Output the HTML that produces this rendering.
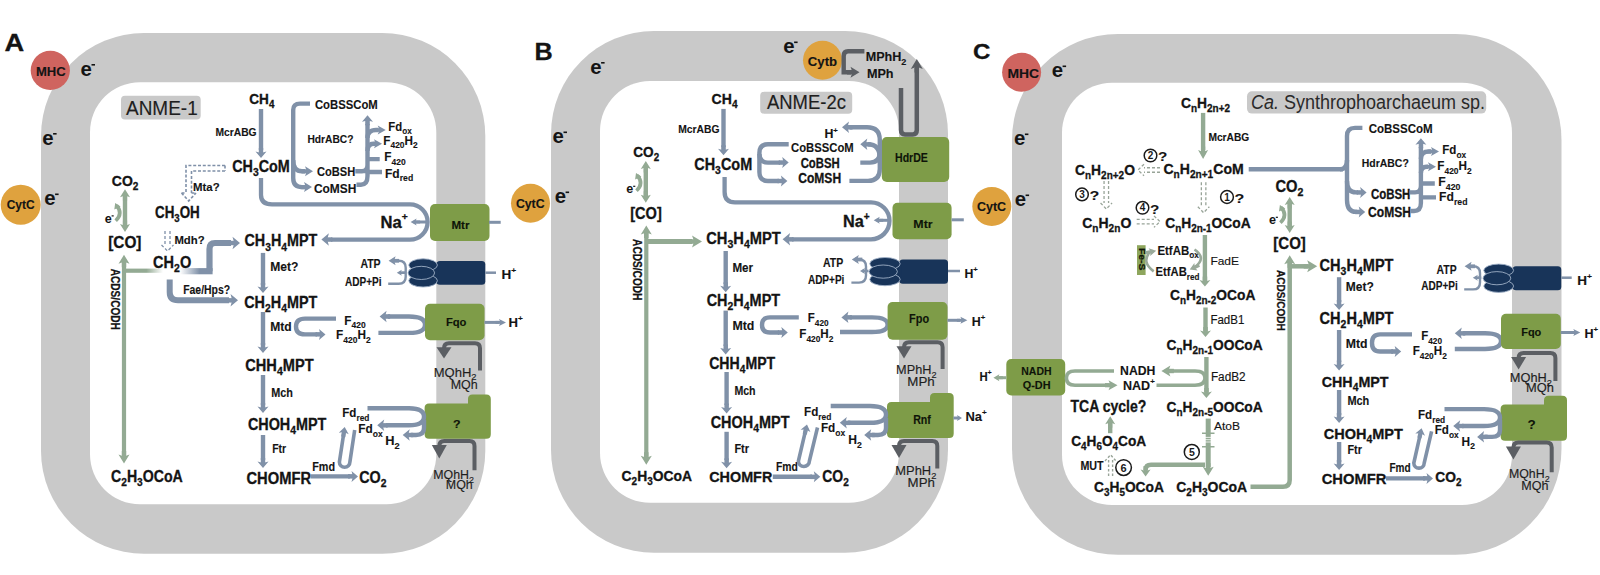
<!DOCTYPE html>
<html><head><meta charset="utf-8"><style>
html,body{margin:0;padding:0;background:#fff;}
svg{display:block;}
</style></head><body>
<svg width="1600" height="575" viewBox="0 0 1600 575">
<rect width="1600" height="575" fill="#fff"/>
<rect x="41" y="33" width="444.3" height="520.8" rx="103" fill="#c9c9c9"/>
<rect x="90" y="82.2" width="346.3" height="422.1" rx="50" fill="#ffffff"/>
<rect x="551" y="31" width="397" height="521.8" rx="103" fill="#c9c9c9"/>
<rect x="600" y="81" width="299" height="421.8" rx="50" fill="#ffffff"/>
<rect x="1012" y="34" width="549.5" height="520.8" rx="106" fill="#c9c9c9"/>
<rect x="1062" y="82.7" width="450" height="422.3" rx="50" fill="#ffffff"/>
<text x="4.5" y="51.0" font-family="Liberation Sans" font-size="24.29" font-weight="bold" fill="#141414" stroke="#141414" stroke-width="0.3" textLength="19.7" lengthAdjust="spacingAndGlyphs" ><tspan>A</tspan></text>
<circle cx="50.3" cy="70.4" r="19.6" fill="#cf645f"/>
<text x="35.9" y="75.5" font-family="Liberation Sans" font-size="12.57" font-weight="bold" fill="#141414" stroke="#141414" stroke-width="0.12" textLength="29.8" lengthAdjust="spacingAndGlyphs" ><tspan>MHC</tspan></text>
<text x="80.6" y="75.5" font-family="Liberation Sans" font-weight="bold" font-size="20.37" fill="#141414">e</text>
<rect x="91.5" y="64.0" width="3.5" height="1.6" fill="#141414"/>
<text x="42.2" y="144.5" font-family="Liberation Sans" font-weight="bold" font-size="20.37" fill="#141414">e</text>
<rect x="53.1" y="133.0" width="3.5" height="1.6" fill="#141414"/>
<circle cx="20.7" cy="204.8" r="20" fill="#dfa23e"/>
<text x="6.7" y="208.5" font-family="Liberation Sans" font-size="12.14" font-weight="bold" fill="#141414" stroke="#141414" stroke-width="0.12" textLength="27.9" lengthAdjust="spacingAndGlyphs" ><tspan>CytC</tspan></text>
<text x="44.2" y="205.0" font-family="Liberation Sans" font-weight="bold" font-size="20.37" fill="#141414">e</text>
<rect x="55.1" y="193.5" width="3.5" height="1.6" fill="#141414"/>
<circle cx="530.5" cy="203.2" r="19.5" fill="#dfa23e"/>
<text x="515.9" y="207.5" font-family="Liberation Sans" font-size="12.14" font-weight="bold" fill="#141414" stroke="#141414" stroke-width="0.12" textLength="28.7" lengthAdjust="spacingAndGlyphs" ><tspan>CytC</tspan></text>
<rect x="121" y="95.8" width="79.7" height="23.7" rx="4" fill="#c9c9c9"/>
<text x="126.0" y="115.0" font-family="Liberation Sans" font-size="20.00" font-weight="normal" fill="#1e1e1e" stroke="#1e1e1e" stroke-width="0.15" textLength="71.7" lengthAdjust="spacingAndGlyphs" ><tspan>ANME-1</tspan></text>
<text x="249.3" y="104.3" font-family="Liberation Sans" font-size="14.29" font-weight="bold" fill="#141414" stroke="#141414" stroke-width="0.3" textLength="25.1" lengthAdjust="spacingAndGlyphs" ><tspan>CH</tspan><tspan dy="4.00" font-size="10.29">4</tspan></text>
<path d="M261,109 V150" fill="none" stroke="#8091a8" stroke-width="4.4" />
<polygon points="261.0,158.0 255.5,151.5 261.0,152.9 266.5,151.5" fill="#8091a8"/>
<polygon points="258.8,148.0 258.8,154.8 263.2,154.8 263.2,148.0" fill="#8091a8"/>
<text x="215.5" y="135.5" font-family="Liberation Sans" font-size="10.71" font-weight="bold" fill="#141414" stroke="#141414" stroke-width="0.12" textLength="41.1" lengthAdjust="spacingAndGlyphs" ><tspan>McrABG</tspan></text>
<text x="232.2" y="172.0" font-family="Liberation Sans" font-size="15.71" font-weight="bold" fill="#141414" stroke="#141414" stroke-width="0.3" textLength="57.6" lengthAdjust="spacingAndGlyphs" ><tspan>CH</tspan><tspan dy="4.40" font-size="11.31">3</tspan><tspan dy="-4.40" font-size="15.71">CoM</tspan></text>
<text x="314.9" y="109.2" font-family="Liberation Sans" font-size="13.14" font-weight="bold" fill="#141414" stroke="#141414" stroke-width="0.12" textLength="62.9" lengthAdjust="spacingAndGlyphs" ><tspan>CoBSSCoM</tspan></text>
<text x="307.4" y="143.3" font-family="Liberation Sans" font-size="11.43" font-weight="bold" fill="#141414" stroke="#141414" stroke-width="0.12" textLength="46.1" lengthAdjust="spacingAndGlyphs" ><tspan>HdrABC?</tspan></text>
<text x="316.9" y="175.7" font-family="Liberation Sans" font-size="13.14" font-weight="bold" fill="#141414" stroke="#141414" stroke-width="0.12" textLength="38.3" lengthAdjust="spacingAndGlyphs" ><tspan>CoBSH</tspan></text>
<text x="313.9" y="192.5" font-family="Liberation Sans" font-size="13.14" font-weight="bold" fill="#141414" stroke="#141414" stroke-width="0.12" textLength="42.5" lengthAdjust="spacingAndGlyphs" ><tspan>CoMSH</tspan></text>
<path d="M310,103.6 H300 Q293.2,103.6 293.2,110 V178 Q293.2,187.1 302,187.1 H305" fill="none" stroke="#8091a8" stroke-width="4.4" />
<path d="M293.2,160 Q293.2,171.3 302,171.3 H305" fill="none" stroke="#8091a8" stroke-width="4.4" />
<polygon points="313.0,171.3 305.0,176.3 306.8,171.3 305.0,166.3" fill="#8091a8"/>
<polygon points="301.5,173.4 309.0,173.4 309.0,169.2 301.5,169.2" fill="#8091a8"/>
<polygon points="312.0,187.1 304.0,192.1 305.8,187.1 304.0,182.1" fill="#8091a8"/>
<polygon points="300.5,189.2 308.0,189.2 308.0,185.0 300.5,185.0" fill="#8091a8"/>
<path d="M355.3,171.3 H362 Q367.5,171.3 367.5,165 M356.5,184.7 H361 Q367.5,184.7 367.5,176 V124" fill="none" stroke="#8091a8" stroke-width="4.4" />
<polygon points="367.5,115.3 373.0,121.8 367.5,120.4 362.0,121.8" fill="#8091a8"/>
<polygon points="369.8,125.3 369.8,118.5 365.2,118.5 365.2,125.3" fill="#8091a8"/>
<path d="M367.5,138 Q367.5,130 376,130 H378 M367.5,151 Q367.5,143.8 374,143.8 H375 M367.5,159.1 H379.7 M367.5,172 H382" fill="none" stroke="#8091a8" stroke-width="4.4" />
<polygon points="385.7,130.0 377.7,134.5 379.5,130.0 377.7,125.5" fill="#8091a8"/>
<polygon points="374.2,131.9 381.7,131.9 381.7,128.1 374.2,128.1" fill="#8091a8"/>
<polygon points="382.0,143.8 374.0,148.3 375.8,143.8 374.0,139.3" fill="#8091a8"/>
<polygon points="370.5,145.7 378.0,145.7 378.0,141.9 370.5,141.9" fill="#8091a8"/>
<text x="388.3" y="130.5" font-family="Liberation Sans" font-size="13.57" font-weight="bold" fill="#141414" stroke="#141414" stroke-width="0.12" textLength="23.4" lengthAdjust="spacingAndGlyphs" ><tspan>Fd</tspan><tspan dy="3.80" font-size="9.77">ox</tspan></text>
<text x="383.3" y="144.5" font-family="Liberation Sans" font-size="13.57" font-weight="bold" fill="#141414" stroke="#141414" stroke-width="0.12" textLength="34.4" lengthAdjust="spacingAndGlyphs" ><tspan>F</tspan><tspan dy="3.80" font-size="9.77">420</tspan><tspan dy="-3.80" font-size="13.57">H</tspan><tspan dy="3.80" font-size="9.77">2</tspan></text>
<text x="384.3" y="161.0" font-family="Liberation Sans" font-size="13.57" font-weight="bold" fill="#141414" stroke="#141414" stroke-width="0.12" textLength="21.4" lengthAdjust="spacingAndGlyphs" ><tspan>F</tspan><tspan dy="3.80" font-size="9.77">420</tspan></text>
<text x="385.0" y="177.5" font-family="Liberation Sans" font-size="13.57" font-weight="bold" fill="#141414" stroke="#141414" stroke-width="0.12" textLength="28.2" lengthAdjust="spacingAndGlyphs" ><tspan>Fd</tspan><tspan dy="3.80" font-size="9.77">red</tspan></text>
<path d="M225,165.5 H186 V193 M225,171 H191.5 V193 M225,165.5 V171" fill="none" stroke="#7f90a8" stroke-width="1.6" stroke-dasharray="3,1.8"/>
<path d="M181.5,193 H186 M191.5,193 H196 M181.5,193 L188.7,201 L196,193" fill="none" stroke="#7f90a8" stroke-width="1.6" stroke-dasharray="3,1.8"/>
<text x="193.0" y="191.4" font-family="Liberation Sans" font-size="11.71" font-weight="bold" fill="#141414" stroke="#141414" stroke-width="0.12" textLength="26.6" lengthAdjust="spacingAndGlyphs" ><tspan>Mta?</tspan></text>
<text x="155.0" y="218.0" font-family="Liberation Sans" font-size="15.71" font-weight="bold" fill="#141414" stroke="#141414" stroke-width="0.3" textLength="44.8" lengthAdjust="spacingAndGlyphs" ><tspan>CH</tspan><tspan dy="4.40" font-size="11.31">3</tspan><tspan dy="-4.40" font-size="15.71">OH</tspan></text>
<path d="M165.0,231 V245 M170.0,231 V245" fill="none" stroke="#7f90a8" stroke-width="1.3" stroke-dasharray="3,2"/>
<path d="M161.5,245 L167.5,251 L173.5,245" fill="none" stroke="#7f90a8" stroke-width="1.3" stroke-dasharray="3,2"/>
<text x="174.4" y="243.7" font-family="Liberation Sans" font-size="11.71" font-weight="bold" fill="#141414" stroke="#141414" stroke-width="0.12" textLength="30.2" lengthAdjust="spacingAndGlyphs" ><tspan>Mdh?</tspan></text>
<text x="153.1" y="268.0" font-family="Liberation Sans" font-size="15.71" font-weight="bold" fill="#141414" stroke="#141414" stroke-width="0.3" textLength="38.1" lengthAdjust="spacingAndGlyphs" ><tspan>CH</tspan><tspan dy="4.40" font-size="11.31">2</tspan><tspan dy="-4.40" font-size="15.71">O</tspan></text>
<text x="111.8" y="186.0" font-family="Liberation Sans" font-size="15.00" font-weight="bold" fill="#141414" stroke="#141414" stroke-width="0.3" textLength="26.6" lengthAdjust="spacingAndGlyphs" ><tspan>CO</tspan><tspan dy="4.20" font-size="10.80">2</tspan></text>
<path d="M125,196 V226" fill="none" stroke="#93aa93" stroke-width="4.4" />
<polygon points="125.0,189.2 130.0,197.2 125.0,195.4 120.0,197.2" fill="#93aa93"/>
<polygon points="127.1,200.7 127.1,193.2 122.9,193.2 122.9,200.7" fill="#93aa93"/>
<polygon points="125.0,232.0 120.0,224.0 125.0,225.8 130.0,224.0" fill="#93aa93"/>
<polygon points="122.9,220.5 122.9,228.0 127.1,228.0 127.1,220.5" fill="#93aa93"/>
<path d="M116.5,205.5 Q123.5,213.5 115.7,220.7" fill="none" stroke="#93aa93" stroke-width="3.6" />
<polygon points="115.2,203.0 120.6,206.6 117.5,208.0 114.3,209.5" fill="#93aa93"/>
<text x="104.7" y="222.6" font-family="Liberation Sans" font-weight="bold" font-size="12.59" fill="#141414">e</text>
<rect x="111.6" y="215.3" width="2.1" height="1.2" fill="#141414"/>
<text x="108.2" y="248.0" font-family="Liberation Sans" font-size="15.71" font-weight="bold" fill="#141414" stroke="#141414" stroke-width="0.3" textLength="33.3" lengthAdjust="spacingAndGlyphs" ><tspan>[CO]</tspan></text>
<path d="M124,262 V455" fill="none" stroke="#93aa93" stroke-width="4.2" />
<polygon points="124.0,254.7 129.5,263.7 124.0,261.7 118.5,263.7" fill="#93aa93"/>
<polygon points="126.2,267.2 126.2,259.2 121.8,259.2 121.8,267.2" fill="#93aa93"/>
<polygon points="124.0,463.5 118.5,454.5 124.0,456.5 129.5,454.5" fill="#93aa93"/>
<polygon points="121.8,451.0 121.8,459.0 126.2,459.0 126.2,451.0" fill="#93aa93"/>
<defs><linearGradient id="gA" x1="0" x2="1"><stop offset="0" stop-color="#93aa93"/><stop offset="0.55" stop-color="#93aa93"/><stop offset="1" stop-color="#93aa93" stop-opacity="0"/></linearGradient><linearGradient id="bA" x1="0" x2="1"><stop offset="0" stop-color="#8091a8" stop-opacity="0"/><stop offset="0.6" stop-color="#8091a8"/></linearGradient></defs>
<rect x="126" y="268.6" width="37" height="4.2" fill="url(#gA)"/>
<g transform="translate(111.4,268.8) rotate(90)"><text x="0" y="0" font-family="Liberation Sans" font-weight="bold" font-size="12.29" fill="#141414" stroke="#141414" stroke-width="0.25" textLength="61.0" lengthAdjust="spacingAndGlyphs">ACDS/CODH</text></g>
<text x="111.0" y="482.0" font-family="Liberation Sans" font-size="15.71" font-weight="bold" fill="#141414" stroke="#141414" stroke-width="0.3" textLength="71.8" lengthAdjust="spacingAndGlyphs" ><tspan>C</tspan><tspan dy="4.40" font-size="11.31">2</tspan><tspan dy="-4.40" font-size="15.71">H</tspan><tspan dy="4.40" font-size="11.31">3</tspan><tspan dy="-4.40" font-size="15.71">OCoA</tspan></text>
<rect x="180" y="268.1" width="32.6" height="6.2" fill="url(#bA)"/>
<path d="M209.5,271.2 V249 Q209.5,243 215,243 H231" fill="none" stroke="#8091a8" stroke-width="6.2" />
<polygon points="240.0,243.0 232.5,249.2 234.2,243.0 232.5,236.8" fill="#8091a8"/>
<polygon points="229.0,245.2 236.2,245.2 236.2,240.8 229.0,240.8" fill="#8091a8"/>
<path d="M169.7,279.6 V292 Q169.7,300.3 178,300.3 H229" fill="none" stroke="#8091a8" stroke-width="6" />
<polygon points="238.0,300.3 230.5,306.6 232.2,300.3 230.5,294.1" fill="#8091a8"/>
<polygon points="227.0,302.6 234.2,302.6 234.2,298.1 227.0,298.1" fill="#8091a8"/>
<text x="183.2" y="294.0" font-family="Liberation Sans" font-size="11.86" font-weight="bold" fill="#141414" stroke="#141414" stroke-width="0.12" textLength="47.0" lengthAdjust="spacingAndGlyphs" ><tspan>Fae/Hps?</tspan></text>
<text x="244.4" y="246.3" font-family="Liberation Sans" font-size="16.14" font-weight="bold" fill="#141414" stroke="#141414" stroke-width="0.3" textLength="72.9" lengthAdjust="spacingAndGlyphs" ><tspan>CH</tspan><tspan dy="4.52" font-size="11.62">3</tspan><tspan dy="-4.52" font-size="16.14">H</tspan><tspan dy="4.52" font-size="11.62">4</tspan><tspan dy="-4.52" font-size="16.14">MPT</tspan></text>
<text x="270.2" y="271.0" font-family="Liberation Sans" font-size="11.86" font-weight="bold" fill="#141414" stroke="#141414" stroke-width="0.12" textLength="28.2" lengthAdjust="spacingAndGlyphs" ><tspan>Met?</tspan></text>
<path d="M263,252.9 V285" fill="none" stroke="#8091a8" stroke-width="4.4" />
<polygon points="263.0,293.0 257.5,286.5 263.0,287.9 268.5,286.5" fill="#8091a8"/>
<polygon points="260.8,283.0 260.8,289.8 265.2,289.8 265.2,283.0" fill="#8091a8"/>
<text x="244.2" y="307.7" font-family="Liberation Sans" font-size="16.14" font-weight="bold" fill="#141414" stroke="#141414" stroke-width="0.3" textLength="73.1" lengthAdjust="spacingAndGlyphs" ><tspan>CH</tspan><tspan dy="4.52" font-size="11.62">2</tspan><tspan dy="-4.52" font-size="16.14">H</tspan><tspan dy="4.52" font-size="11.62">4</tspan><tspan dy="-4.52" font-size="16.14">MPT</tspan></text>
<text x="270.2" y="331.0" font-family="Liberation Sans" font-size="12.14" font-weight="bold" fill="#141414" stroke="#141414" stroke-width="0.12" textLength="21.4" lengthAdjust="spacingAndGlyphs" ><tspan>Mtd</tspan></text>
<path d="M263,312 V345" fill="none" stroke="#8091a8" stroke-width="4.4" />
<polygon points="263.0,353.0 257.5,346.5 263.0,347.9 268.5,346.5" fill="#8091a8"/>
<polygon points="260.8,343.0 260.8,349.8 265.2,349.8 265.2,343.0" fill="#8091a8"/>
<text x="245.2" y="370.5" font-family="Liberation Sans" font-size="15.71" font-weight="bold" fill="#141414" stroke="#141414" stroke-width="0.3" textLength="68.4" lengthAdjust="spacingAndGlyphs" ><tspan>CHH</tspan><tspan dy="4.40" font-size="11.31">4</tspan><tspan dy="-4.40" font-size="15.71">MPT</tspan></text>
<text x="271.2" y="397.0" font-family="Liberation Sans" font-size="11.86" font-weight="bold" fill="#141414" stroke="#141414" stroke-width="0.12" textLength="21.7" lengthAdjust="spacingAndGlyphs" ><tspan>Mch</tspan></text>
<path d="M263,375 V405" fill="none" stroke="#8091a8" stroke-width="4.4" />
<polygon points="263.0,413.0 257.5,406.5 263.0,407.9 268.5,406.5" fill="#8091a8"/>
<polygon points="260.8,403.0 260.8,409.8 265.2,409.8 265.2,403.0" fill="#8091a8"/>
<text x="247.9" y="429.5" font-family="Liberation Sans" font-size="15.71" font-weight="bold" fill="#141414" stroke="#141414" stroke-width="0.3" textLength="78.5" lengthAdjust="spacingAndGlyphs" ><tspan>CHOH</tspan><tspan dy="4.40" font-size="11.31">4</tspan><tspan dy="-4.40" font-size="15.71">MPT</tspan></text>
<text x="272.2" y="453.3" font-family="Liberation Sans" font-size="11.86" font-weight="bold" fill="#141414" stroke="#141414" stroke-width="0.12" textLength="14.0" lengthAdjust="spacingAndGlyphs" ><tspan>Ftr</tspan></text>
<path d="M263,435 V460" fill="none" stroke="#8091a8" stroke-width="4.4" />
<polygon points="263.0,468.0 257.5,461.5 263.0,462.9 268.5,461.5" fill="#8091a8"/>
<polygon points="260.8,458.0 260.8,464.8 265.2,464.8 265.2,458.0" fill="#8091a8"/>
<text x="246.4" y="483.5" font-family="Liberation Sans" font-size="15.71" font-weight="bold" fill="#141414" stroke="#141414" stroke-width="0.3" textLength="64.7" lengthAdjust="spacingAndGlyphs" ><tspan>CHOMFR</tspan></text>
<text x="312.2" y="470.8" font-family="Liberation Sans" font-size="11.86" font-weight="bold" fill="#141414" stroke="#141414" stroke-width="0.12" textLength="22.8" lengthAdjust="spacingAndGlyphs" ><tspan>Fmd</tspan></text>
<path d="M310.5,476.4 H350" fill="none" stroke="#8091a8" stroke-width="4.4" />
<polygon points="358.0,476.4 351.5,481.9 352.9,476.4 351.5,470.9" fill="#8091a8"/>
<polygon points="348.0,478.6 354.8,478.6 354.8,474.1 348.0,474.1" fill="#8091a8"/>
<text x="359.2" y="482.5" font-family="Liberation Sans" font-size="15.71" font-weight="bold" fill="#141414" stroke="#141414" stroke-width="0.3" textLength="27.3" lengthAdjust="spacingAndGlyphs" ><tspan>CO</tspan><tspan dy="4.40" font-size="11.31">2</tspan></text>
<path d="M343.8,432.9 L339.4,462.0 A5.2,5.2 0 0 0 349.9,462.0 L354.7,430.0" fill="none" stroke="#8091a8" stroke-width="3.6" />
<polygon points="344.7,427.0 348.7,434.2 343.9,432.0 338.8,432.7" fill="#8091a8"/>
<polygon points="345.3,437.2 346.3,430.5 342.1,429.9 341.1,436.6" fill="#8091a8"/>
<path d="M336,318.6 H305 Q296,318.6 296,326.5 Q296,334.4 305,334.4 H317" fill="none" stroke="#8091a8" stroke-width="4.4" />
<polygon points="325.5,334.4 319.0,339.9 320.4,334.4 319.0,328.9" fill="#8091a8"/>
<polygon points="315.5,336.6 322.2,336.6 322.2,332.1 315.5,332.1" fill="#8091a8"/>
<text x="344.3" y="324.5" font-family="Liberation Sans" font-size="13.57" font-weight="bold" fill="#141414" stroke="#141414" stroke-width="0.12" textLength="21.4" lengthAdjust="spacingAndGlyphs" ><tspan>F</tspan><tspan dy="3.80" font-size="9.77">420</tspan></text>
<text x="336.0" y="339.0" font-family="Liberation Sans" font-size="13.57" font-weight="bold" fill="#141414" stroke="#141414" stroke-width="0.12" textLength="34.7" lengthAdjust="spacingAndGlyphs" ><tspan>F</tspan><tspan dy="3.80" font-size="9.77">420</tspan><tspan dy="-3.80" font-size="13.57">H</tspan><tspan dy="3.80" font-size="9.77">2</tspan></text>
<path d="M388,316.5 H409 Q425,316.5 425,324.7 Q425,332.9 409,332.9 H378.4" fill="none" stroke="#8091a8" stroke-width="4.4" />
<polygon points="379.6,316.5 386.6,310.8 385.1,316.5 386.6,322.2" fill="#8091a8"/>
<polygon points="390.1,314.2 383.1,314.2 383.1,318.8 390.1,318.8" fill="#8091a8"/>
<rect x="425" y="303.7" width="59.5" height="36.5" rx="5" fill="#7e9c48"/>
<text x="445.9" y="325.5" font-family="Liberation Sans" font-size="11.43" font-weight="bold" fill="#0e1408" stroke="#0e1408" stroke-width="0.12" textLength="20.6" lengthAdjust="spacingAndGlyphs" ><tspan>Fqo</tspan></text>
<path d="M484.5,322.4 H499" fill="none" stroke="#8091a8" stroke-width="3" />
<polygon points="506.0,322.4 499.0,325.9 500.5,322.4 499.0,318.9" fill="#8091a8"/>
<polygon points="495.5,323.9 502.5,323.9 502.5,320.9 495.5,320.9" fill="#8091a8"/>
<text x="508.4" y="327.0" font-family="Liberation Sans" font-size="12.86" font-weight="bold" fill="#141414" stroke="#141414" stroke-width="0.12" textLength="14.3" lengthAdjust="spacingAndGlyphs" ><tspan>H</tspan><tspan dy="-5.79" font-size="7.97">+</tspan></text>
<path d="M480,370.6 V348.3 Q480,343.3 475,343.3 H449 Q444,343.3 444,348.3" fill="none" stroke="#5b5e63" stroke-width="4" />
<polygon points="436.5,347.3 451.5,347.3 444.0,358.6" fill="#5b5e63"/>
<text x="433.7" y="376.5" font-family="Liberation Sans" font-size="13.57" font-weight="normal" fill="#1e1e1e" stroke="#1e1e1e" stroke-width="0.15" textLength="42.8" lengthAdjust="spacingAndGlyphs" ><tspan>MQhH</tspan><tspan dy="3.80" font-size="9.77">2</tspan></text>
<text x="450.7" y="388.5" font-family="Liberation Sans" font-size="13.57" font-weight="normal" fill="#1e1e1e" stroke="#1e1e1e" stroke-width="0.15" textLength="27.0" lengthAdjust="spacingAndGlyphs" ><tspan>MQh</tspan></text>
<path d="M261,178 V195 Q261,204.4 272,204.4 H410 A17.6,17.6 0 0 1 410,239.6 H331" fill="none" stroke="#8091a8" stroke-width="4.3" />
<polygon points="321.4,239.6 328.9,233.3 327.2,239.6 328.9,245.8" fill="#8091a8"/>
<polygon points="332.4,237.3 325.1,237.3 325.1,241.8 332.4,241.8" fill="#8091a8"/>
<rect x="430" y="204" width="59.5" height="37.0" rx="5" fill="#7e9c48"/>
<text x="451.4" y="228.7" font-family="Liberation Sans" font-size="11.14" font-weight="bold" fill="#0e1408" stroke="#0e1408" stroke-width="0.12" textLength="18.1" lengthAdjust="spacingAndGlyphs" ><tspan>Mtr</tspan></text>
<text x="380.6" y="227.5" font-family="Liberation Sans" font-size="15.71" font-weight="bold" fill="#141414" stroke="#141414" stroke-width="0.3" textLength="27.2" lengthAdjust="spacingAndGlyphs" ><tspan>Na</tspan><tspan dy="-7.07" font-size="9.74">+</tspan></text>
<path d="M427.7,222 H415" fill="none" stroke="#8091a8" stroke-width="3" />
<polygon points="410.6,222.0 416.6,218.5 415.3,222.0 416.6,225.5" fill="#8091a8"/>
<polygon points="420.1,220.5 413.6,220.5 413.6,223.5 420.1,223.5" fill="#8091a8"/>
<path d="M489,222.3 H500.7" fill="none" stroke="#8091a8" stroke-width="3" />
<rect x="436.4" y="261" width="48.9" height="23.8" rx="3.5" fill="#183459"/>
<rect x="430.4" y="266.9" width="8" height="12" fill="#183459"/>
<ellipse cx="423.1" cy="265.1" rx="14.3" ry="6.3" fill="#183459" stroke="#9fb0c6" stroke-width="0.9"/>
<ellipse cx="423.1" cy="280.7" rx="14.3" ry="6.3" fill="#183459" stroke="#9fb0c6" stroke-width="0.9"/>
<ellipse cx="421.3" cy="272.9" rx="13.3" ry="6.6" fill="#183459" stroke="#9fb0c6" stroke-width="0.9"/>
<path d="M388.2,283.7 H398.7 Q405.7,283.7 405.7,276.7 V267.8 Q405.7,260.8 398.7,260.8 H393.6" fill="none" stroke="#8091a8" stroke-width="2.4" />
<polygon points="388.6,260.8 395.6,256.3 394.1,260.8 395.6,265.3" fill="#8091a8"/>
<polygon points="399.1,258.9 392.1,258.9 392.1,262.7 399.1,262.7" fill="#8091a8"/>
<path d="M405.7,272.7 H401.6" fill="none" stroke="#8091a8" stroke-width="2" />
<polygon points="396.8,272.7 401.8,269.7 400.7,272.7 401.8,275.7" fill="#8091a8"/>
<polygon points="405.3,271.4 399.3,271.4 399.3,274.0 405.3,274.0" fill="#8091a8"/>
<path d="M485.3,272.7 H496.0" fill="none" stroke="#8091a8" stroke-width="2.5" />
<text x="501.4" y="278.7" font-family="Liberation Sans" font-size="12.86" font-weight="bold" fill="#141414" stroke="#141414" stroke-width="0.12" textLength="14.7" lengthAdjust="spacingAndGlyphs" ><tspan>H</tspan><tspan dy="-5.79" font-size="7.97">+</tspan></text>
<text x="360.4" y="267.5" font-family="Liberation Sans" font-size="12.14" font-weight="bold" fill="#141414" stroke="#141414" stroke-width="0.12" textLength="20.2" lengthAdjust="spacingAndGlyphs" ><tspan>ATP</tspan></text>
<text x="345.1" y="285.7" font-family="Liberation Sans" font-size="12.14" font-weight="bold" fill="#141414" stroke="#141414" stroke-width="0.12" textLength="36.5" lengthAdjust="spacingAndGlyphs" ><tspan>ADP+Pi</tspan></text>
<path d="M424.6,408 Q424.6,403.4 429,403.4 H468 V399 Q468,394.4 472.5,394.4 H486.3 Q490.8,394.4 490.8,399 V434.2 Q490.8,438.7 486.3,438.7 H429 Q424.6,438.7 424.6,434.2 Z" fill="#7e9c48"/>
<text x="452.9" y="428.0" font-family="Liberation Sans" font-size="11.43" font-weight="bold" fill="#0e1408" stroke="#0e1408" stroke-width="0.12" textLength="7.6" lengthAdjust="spacingAndGlyphs" ><tspan>?</tspan></text>
<path d="M367.5,408.3 H409 Q424,408.3 424,416.8 Q424,425.3 409,425.3 H386" fill="none" stroke="#8091a8" stroke-width="4.4" />
<polygon points="377.2,425.3 384.2,419.6 382.7,425.3 384.2,431.1" fill="#8091a8"/>
<polygon points="387.7,423.1 380.7,423.1 380.7,427.6 387.7,427.6" fill="#8091a8"/>
<path d="M424,420 V428 Q424,435 416,435 H411" fill="none" stroke="#8091a8" stroke-width="4.4" />
<polygon points="402.7,435.0 409.7,429.2 408.2,435.0 409.7,440.8" fill="#8091a8"/>
<polygon points="413.2,432.8 406.2,432.8 406.2,437.2 413.2,437.2" fill="#8091a8"/>
<text x="342.3" y="417.0" font-family="Liberation Sans" font-size="13.57" font-weight="bold" fill="#141414" stroke="#141414" stroke-width="0.12" textLength="27.1" lengthAdjust="spacingAndGlyphs" ><tspan>Fd</tspan><tspan dy="3.80" font-size="9.77">red</tspan></text>
<text x="358.3" y="433.0" font-family="Liberation Sans" font-size="13.57" font-weight="bold" fill="#141414" stroke="#141414" stroke-width="0.12" textLength="24.4" lengthAdjust="spacingAndGlyphs" ><tspan>Fd</tspan><tspan dy="3.80" font-size="9.77">ox</tspan></text>
<text x="385.3" y="445.0" font-family="Liberation Sans" font-size="13.57" font-weight="bold" fill="#141414" stroke="#141414" stroke-width="0.12" textLength="14.4" lengthAdjust="spacingAndGlyphs" ><tspan>H</tspan><tspan dy="3.80" font-size="9.77">2</tspan></text>
<path d="M474.5,470.3 V446 Q474.5,441 469.5,441 H444.3 Q439.3,441 439.3,446" fill="none" stroke="#5b5e63" stroke-width="4" />
<polygon points="431.8,445.0 446.8,445.0 439.3,458.6" fill="#5b5e63"/>
<text x="433.3" y="479.0" font-family="Liberation Sans" font-size="13.57" font-weight="normal" fill="#1e1e1e" stroke="#1e1e1e" stroke-width="0.15" textLength="40.7" lengthAdjust="spacingAndGlyphs" ><tspan>MQhH</tspan><tspan dy="3.80" font-size="9.77">2</tspan></text>
<text x="445.8" y="488.5" font-family="Liberation Sans" font-size="13.57" font-weight="normal" fill="#1e1e1e" stroke="#1e1e1e" stroke-width="0.15" textLength="26.9" lengthAdjust="spacingAndGlyphs" ><tspan>MQh</tspan></text>
<text x="534.6" y="59.6" font-family="Liberation Sans" font-size="24.29" font-weight="bold" fill="#141414" stroke="#141414" stroke-width="0.3" textLength="18.2" lengthAdjust="spacingAndGlyphs" ><tspan>B</tspan></text>
<text x="590.2" y="73.5" font-family="Liberation Sans" font-weight="bold" font-size="20.37" fill="#141414">e</text>
<rect x="601.1" y="62.0" width="3.5" height="1.6" fill="#141414"/>
<text x="552.6" y="143.0" font-family="Liberation Sans" font-weight="bold" font-size="20.37" fill="#141414">e</text>
<rect x="563.5" y="131.5" width="3.5" height="1.6" fill="#141414"/>
<text x="554.7" y="203.0" font-family="Liberation Sans" font-weight="bold" font-size="20.37" fill="#141414">e</text>
<rect x="565.6" y="191.5" width="3.5" height="1.6" fill="#141414"/>
<text x="783.2" y="53.0" font-family="Liberation Sans" font-weight="bold" font-size="20.37" fill="#141414">e</text>
<rect x="794.1" y="41.5" width="3.5" height="1.6" fill="#141414"/>
<circle cx="822.5" cy="60.2" r="19.5" fill="#dfa23e"/>
<text x="807.8" y="65.5" font-family="Liberation Sans" font-size="12.57" font-weight="bold" fill="#141414" stroke="#141414" stroke-width="0.12" textLength="29.3" lengthAdjust="spacingAndGlyphs" ><tspan>Cytb</tspan></text>
<path d="M864.4,51.2 H848 Q843.7,51.2 843.7,56 V72.3 H851" fill="none" stroke="#5b5e63" stroke-width="4.4" />
<polygon points="859.5,72.3 850.5,77.8 852.5,72.3 850.5,66.8" fill="#5b5e63"/>
<polygon points="847.0,74.5 855.0,74.5 855.0,70.0 847.0,70.0" fill="#5b5e63"/>
<text x="865.7" y="61.0" font-family="Liberation Sans" font-size="13.14" font-weight="bold" fill="#141414" stroke="#141414" stroke-width="0.12" textLength="40.7" lengthAdjust="spacingAndGlyphs" ><tspan>MPhH</tspan><tspan dy="3.68" font-size="9.46">2</tspan></text>
<text x="866.9" y="78.0" font-family="Liberation Sans" font-size="13.14" font-weight="bold" fill="#141414" stroke="#141414" stroke-width="0.12" textLength="26.7" lengthAdjust="spacingAndGlyphs" ><tspan>MPh</tspan></text>
<path d="M901,88 V130 Q901,134.4 905,134.4 H912.8 Q916.8,134.4 916.8,130 V68" fill="none" stroke="#5b5e63" stroke-width="4.5" />
<polygon points="916.8,59.0 922.8,69.0 916.8,66.8 910.8,69.0" fill="#5b5e63"/>
<polygon points="919.0,72.5 919.0,64.0 914.5,64.0 914.5,72.5" fill="#5b5e63"/>
<rect x="760.2" y="91.8" width="92.0" height="21.9" rx="4" fill="#c9c9c9"/>
<text x="767.0" y="109.0" font-family="Liberation Sans" font-size="19.29" font-weight="normal" fill="#1e1e1e" stroke="#1e1e1e" stroke-width="0.15" textLength="78.9" lengthAdjust="spacingAndGlyphs" ><tspan>ANME-2c</tspan></text>
<text x="711.6" y="103.5" font-family="Liberation Sans" font-size="14.71" font-weight="bold" fill="#141414" stroke="#141414" stroke-width="0.3" textLength="25.9" lengthAdjust="spacingAndGlyphs" ><tspan>CH</tspan><tspan dy="4.12" font-size="10.59">4</tspan></text>
<path d="M723.5,108.9 V147" fill="none" stroke="#8091a8" stroke-width="4.4" />
<polygon points="723.5,155.3 718.0,148.8 723.5,150.2 729.0,148.8" fill="#8091a8"/>
<polygon points="721.2,145.3 721.2,152.1 725.8,152.1 725.8,145.3" fill="#8091a8"/>
<text x="678.2" y="133.0" font-family="Liberation Sans" font-size="11.43" font-weight="bold" fill="#141414" stroke="#141414" stroke-width="0.12" textLength="41.3" lengthAdjust="spacingAndGlyphs" ><tspan>McrABG</tspan></text>
<text x="694.2" y="170.0" font-family="Liberation Sans" font-size="15.71" font-weight="bold" fill="#141414" stroke="#141414" stroke-width="0.3" textLength="58.0" lengthAdjust="spacingAndGlyphs" ><tspan>CH</tspan><tspan dy="4.40" font-size="11.31">3</tspan><tspan dy="-4.40" font-size="15.71">CoM</tspan></text>
<text x="633.2" y="156.5" font-family="Liberation Sans" font-size="15.43" font-weight="bold" fill="#141414" stroke="#141414" stroke-width="0.3" textLength="25.9" lengthAdjust="spacingAndGlyphs" ><tspan>CO</tspan><tspan dy="4.32" font-size="11.11">2</tspan></text>
<path d="M645.8,167 V196" fill="none" stroke="#93aa93" stroke-width="4.4" />
<polygon points="645.8,161.0 650.8,169.0 645.8,167.2 640.8,169.0" fill="#93aa93"/>
<polygon points="647.9,172.5 647.9,165.0 643.7,165.0 643.7,172.5" fill="#93aa93"/>
<polygon points="645.8,202.8 640.8,194.8 645.8,196.6 650.8,194.8" fill="#93aa93"/>
<polygon points="643.7,191.3 643.7,198.8 647.9,198.8 647.9,191.3" fill="#93aa93"/>
<path d="M637.3,175.5 Q644.3,183.5 636.5,190.7" fill="none" stroke="#93aa93" stroke-width="3.6" />
<polygon points="636.0,173.0 641.4,176.6 638.3,178.0 635.1,179.5" fill="#93aa93"/>
<text x="626.3" y="193.0" font-family="Liberation Sans" font-weight="bold" font-size="12.59" fill="#141414">e</text>
<rect x="633.2" y="185.7" width="2.1" height="1.2" fill="#141414"/>
<text x="630.2" y="219.0" font-family="Liberation Sans" font-size="15.71" font-weight="bold" fill="#141414" stroke="#141414" stroke-width="0.3" textLength="31.6" lengthAdjust="spacingAndGlyphs" ><tspan>[CO]</tspan></text>
<path d="M646.3,233 V457" fill="none" stroke="#93aa93" stroke-width="4.2" />
<polygon points="646.3,225.5 651.8,234.5 646.3,232.5 640.8,234.5" fill="#93aa93"/>
<polygon points="648.5,238.0 648.5,230.0 644.0,230.0 644.0,238.0" fill="#93aa93"/>
<polygon points="646.3,464.7 640.8,455.7 646.3,457.7 651.8,455.7" fill="#93aa93"/>
<polygon points="644.0,452.2 644.0,460.2 648.5,460.2 648.5,452.2" fill="#93aa93"/>
<path d="M647,241.5 H692" fill="none" stroke="#93aa93" stroke-width="4.8" />
<polygon points="702.0,241.5 692.0,247.5 694.2,241.5 692.0,235.5" fill="#93aa93"/>
<polygon points="688.5,243.8 697.0,243.8 697.0,239.2 688.5,239.2" fill="#93aa93"/>
<g transform="translate(633.0,239.1) rotate(90)"><text x="0" y="0" font-family="Liberation Sans" font-weight="bold" font-size="11.86" fill="#141414" stroke="#141414" stroke-width="0.25" textLength="61.3" lengthAdjust="spacingAndGlyphs">ACDS/CODH</text></g>
<text x="621.6" y="481.0" font-family="Liberation Sans" font-size="15.00" font-weight="bold" fill="#141414" stroke="#141414" stroke-width="0.3" textLength="70.4" lengthAdjust="spacingAndGlyphs" ><tspan>C</tspan><tspan dy="4.20" font-size="10.80">2</tspan><tspan dy="-4.20" font-size="15.00">H</tspan><tspan dy="4.20" font-size="10.80">3</tspan><tspan dy="-4.20" font-size="15.00">OCoA</tspan></text>
<path d="M788.7,144.3 H768 Q759.4,144.3 759.4,153 V172 Q759.4,181 768,181 H779" fill="none" stroke="#8091a8" stroke-width="4.4" />
<path d="M759.4,154 Q759.4,162.6 768,162.6 H780" fill="none" stroke="#8091a8" stroke-width="4.4" />
<polygon points="788.7,162.6 782.2,168.1 783.6,162.6 782.2,157.1" fill="#8091a8"/>
<polygon points="778.7,164.8 785.5,164.8 785.5,160.3 778.7,160.3" fill="#8091a8"/>
<polygon points="787.4,181.0 780.9,186.5 782.3,181.0 780.9,175.5" fill="#8091a8"/>
<polygon points="777.4,183.2 784.1,183.2 784.1,178.8 777.4,178.8" fill="#8091a8"/>
<text x="791.0" y="151.6" font-family="Liberation Sans" font-size="13.57" font-weight="bold" fill="#141414" stroke="#141414" stroke-width="0.12" textLength="62.7" lengthAdjust="spacingAndGlyphs" ><tspan>CoBSSCoM</tspan></text>
<text x="800.7" y="167.5" font-family="Liberation Sans" font-size="14.00" font-weight="bold" fill="#141414" stroke="#141414" stroke-width="0.3" textLength="39.0" lengthAdjust="spacingAndGlyphs" ><tspan>CoBSH</tspan></text>
<text x="798.3" y="182.5" font-family="Liberation Sans" font-size="14.00" font-weight="bold" fill="#141414" stroke="#141414" stroke-width="0.3" textLength="42.8" lengthAdjust="spacingAndGlyphs" ><tspan>CoMSH</tspan></text>
<text x="824.4" y="138.0" font-family="Liberation Sans" font-size="12.14" font-weight="bold" fill="#141414" stroke="#141414" stroke-width="0.12" textLength="13.4" lengthAdjust="spacingAndGlyphs" ><tspan>H</tspan><tspan dy="-5.46" font-size="7.53">+</tspan></text>
<rect x="881.8" y="137" width="67.4" height="45.0" rx="5" fill="#7e9c48"/>
<text x="895.0" y="162.0" font-family="Liberation Sans" font-size="11.86" font-weight="bold" fill="#0e1408" stroke="#0e1408" stroke-width="0.12" textLength="32.9" lengthAdjust="spacingAndGlyphs" ><tspan>HdrDE</tspan></text>
<path d="M849.4,180.9 H868 Q879.8,180.9 879.8,169 V140 Q879.8,127.3 867,127.3 H850" fill="none" stroke="#8091a8" stroke-width="4.4" />
<polygon points="842.0,127.3 849.0,121.5 847.5,127.3 849.0,133.1" fill="#8091a8"/>
<polygon points="852.5,125.0 845.5,125.0 845.5,129.6 852.5,129.6" fill="#8091a8"/>
<path d="M860.3,162.6 H870 Q879.8,162.6 879.8,152" fill="none" stroke="#8091a8" stroke-width="4.4" />
<path d="M879.8,158 Q879.8,144.3 868,144.3" fill="none" stroke="#8091a8" stroke-width="4.4" />
<polygon points="860.3,144.3 867.3,138.6 865.8,144.3 867.3,150.1" fill="#8091a8"/>
<polygon points="870.8,142.1 863.8,142.1 863.8,146.6 870.8,146.6" fill="#8091a8"/>
<path d="M724.6,177 V192 Q724.6,202.3 735,202.3 H871 A18.5,18.5 0 0 1 871,239.3 H792" fill="none" stroke="#8091a8" stroke-width="4.3" />
<polygon points="782.6,239.3 790.1,233.1 788.5,239.3 790.1,245.6" fill="#8091a8"/>
<polygon points="793.6,237.1 786.4,237.1 786.4,241.6 793.6,241.6" fill="#8091a8"/>
<text x="843.0" y="227.0" font-family="Liberation Sans" font-size="16.43" font-weight="bold" fill="#141414" stroke="#141414" stroke-width="0.3" textLength="26.7" lengthAdjust="spacingAndGlyphs" ><tspan>Na</tspan><tspan dy="-7.39" font-size="10.19">+</tspan></text>
<path d="M889.5,220.3 H878" fill="none" stroke="#8091a8" stroke-width="3" />
<polygon points="873.7,220.3 879.7,216.8 878.4,220.3 879.7,223.8" fill="#8091a8"/>
<polygon points="883.2,218.8 876.7,218.8 876.7,221.8 883.2,221.8" fill="#8091a8"/>
<rect x="892.5" y="202.8" width="59.1" height="36.5" rx="5" fill="#7e9c48"/>
<text x="913.3" y="227.6" font-family="Liberation Sans" font-size="11.43" font-weight="bold" fill="#0e1408" stroke="#0e1408" stroke-width="0.12" textLength="19.3" lengthAdjust="spacingAndGlyphs" ><tspan>Mtr</tspan></text>
<path d="M951.6,219.8 H963.8" fill="none" stroke="#8091a8" stroke-width="3" />
<circle cx="991.8" cy="206.4" r="19.5" fill="#dfa23e"/>
<text x="976.9" y="211.0" font-family="Liberation Sans" font-size="12.14" font-weight="bold" fill="#141414" stroke="#141414" stroke-width="0.12" textLength="29.2" lengthAdjust="spacingAndGlyphs" ><tspan>CytC</tspan></text>
<text x="706.2" y="244.0" font-family="Liberation Sans" font-size="15.71" font-weight="bold" fill="#141414" stroke="#141414" stroke-width="0.3" textLength="74.6" lengthAdjust="spacingAndGlyphs" ><tspan>CH</tspan><tspan dy="4.40" font-size="11.31">3</tspan><tspan dy="-4.40" font-size="15.71">H</tspan><tspan dy="4.40" font-size="11.31">4</tspan><tspan dy="-4.40" font-size="15.71">MPT</tspan></text>
<path d="M725.7,251 V284" fill="none" stroke="#8091a8" stroke-width="4.4" />
<polygon points="725.7,292.3 720.2,285.8 725.7,287.2 731.2,285.8" fill="#8091a8"/>
<polygon points="723.5,282.3 723.5,289.1 728.0,289.1 728.0,282.3" fill="#8091a8"/>
<text x="732.4" y="271.6" font-family="Liberation Sans" font-size="12.29" font-weight="bold" fill="#141414" stroke="#141414" stroke-width="0.12" textLength="20.7" lengthAdjust="spacingAndGlyphs" ><tspan>Mer</tspan></text>
<text x="706.7" y="306.0" font-family="Liberation Sans" font-size="15.71" font-weight="bold" fill="#141414" stroke="#141414" stroke-width="0.3" textLength="73.4" lengthAdjust="spacingAndGlyphs" ><tspan>CH</tspan><tspan dy="4.40" font-size="11.31">2</tspan><tspan dy="-4.40" font-size="15.71">H</tspan><tspan dy="4.40" font-size="11.31">4</tspan><tspan dy="-4.40" font-size="15.71">MPT</tspan></text>
<path d="M725.7,310.6 V346" fill="none" stroke="#8091a8" stroke-width="4.4" />
<polygon points="725.7,354.4 720.2,347.9 725.7,349.3 731.2,347.9" fill="#8091a8"/>
<polygon points="723.5,344.4 723.5,351.1 728.0,351.1 728.0,344.4" fill="#8091a8"/>
<text x="732.4" y="330.0" font-family="Liberation Sans" font-size="12.14" font-weight="bold" fill="#141414" stroke="#141414" stroke-width="0.12" textLength="21.9" lengthAdjust="spacingAndGlyphs" ><tspan>Mtd</tspan></text>
<path d="M798.8,317.4 H770 Q762,317.4 762,325 Q762,332.5 770,332.5 H779" fill="none" stroke="#8091a8" stroke-width="4.4" />
<polygon points="787.8,332.5 781.3,338.0 782.7,332.5 781.3,327.0" fill="#8091a8"/>
<polygon points="777.8,334.8 784.5,334.8 784.5,330.2 777.8,330.2" fill="#8091a8"/>
<text x="807.8" y="322.0" font-family="Liberation Sans" font-size="13.14" font-weight="bold" fill="#141414" stroke="#141414" stroke-width="0.12" textLength="20.8" lengthAdjust="spacingAndGlyphs" ><tspan>F</tspan><tspan dy="3.68" font-size="9.46">420</tspan></text>
<text x="799.3" y="338.0" font-family="Liberation Sans" font-size="13.14" font-weight="bold" fill="#141414" stroke="#141414" stroke-width="0.12" textLength="34.1" lengthAdjust="spacingAndGlyphs" ><tspan>F</tspan><tspan dy="3.68" font-size="9.46">420</tspan><tspan dy="-3.68" font-size="13.14">H</tspan><tspan dy="3.68" font-size="9.46">2</tspan></text>
<path d="M850,317.4 H872 Q887.6,317.4 887.6,324.7 Q887.6,332 872,332 H840" fill="none" stroke="#8091a8" stroke-width="4.4" />
<polygon points="841.4,317.4 848.4,311.6 846.9,317.4 848.4,323.1" fill="#8091a8"/>
<polygon points="851.9,315.1 844.9,315.1 844.9,319.6 851.9,319.6" fill="#8091a8"/>
<rect x="887.6" y="302" width="59.9" height="37.8" rx="5" fill="#7e9c48"/>
<text x="909.1" y="322.8" font-family="Liberation Sans" font-size="12.29" font-weight="bold" fill="#0e1408" stroke="#0e1408" stroke-width="0.12" textLength="20.0" lengthAdjust="spacingAndGlyphs" ><tspan>Fpo</tspan></text>
<path d="M947.5,320.3 H960" fill="none" stroke="#8091a8" stroke-width="3" />
<polygon points="967.4,320.3 960.4,323.8 961.9,320.3 960.4,316.8" fill="#8091a8"/>
<polygon points="956.9,321.8 963.9,321.8 963.9,318.8 956.9,318.8" fill="#8091a8"/>
<text x="971.7" y="326.0" font-family="Liberation Sans" font-size="12.86" font-weight="bold" fill="#141414" stroke="#141414" stroke-width="0.12" textLength="13.5" lengthAdjust="spacingAndGlyphs" ><tspan>H</tspan><tspan dy="-5.79" font-size="7.97">+</tspan></text>
<path d="M942.6,369 V347.2 Q942.6,342.2 937.6,342.2 H909 Q904,342.2 904,347.2" fill="none" stroke="#5b5e63" stroke-width="4" />
<polygon points="896.5,346.2 911.5,346.2 904.0,358.4" fill="#5b5e63"/>
<text x="896.1" y="374.0" font-family="Liberation Sans" font-size="13.57" font-weight="normal" fill="#1e1e1e" stroke="#1e1e1e" stroke-width="0.15" textLength="40.4" lengthAdjust="spacingAndGlyphs" ><tspan>MPhH</tspan><tspan dy="3.80" font-size="9.77">2</tspan></text>
<text x="907.3" y="386.0" font-family="Liberation Sans" font-size="13.57" font-weight="normal" fill="#1e1e1e" stroke="#1e1e1e" stroke-width="0.15" textLength="27.4" lengthAdjust="spacingAndGlyphs" ><tspan>MPh</tspan></text>
<rect x="899.3" y="259.5" width="48.7" height="24.3" rx="3.5" fill="#183459"/>
<rect x="893.3" y="265.65" width="8" height="12" fill="#183459"/>
<ellipse cx="885.0" cy="263.8" rx="15.2" ry="6.3" fill="#183459" stroke="#9fb0c6" stroke-width="0.9"/>
<ellipse cx="885.0" cy="279.4" rx="15.2" ry="6.3" fill="#183459" stroke="#9fb0c6" stroke-width="0.9"/>
<ellipse cx="883.2" cy="271.6" rx="14.2" ry="6.6" fill="#183459" stroke="#9fb0c6" stroke-width="0.9"/>
<path d="M851.4,282.6 H859.0 Q866.0,282.6 866.0,275.6 V266.5 Q866.0,259.5 859.0,259.5 H856.8" fill="none" stroke="#8091a8" stroke-width="2.4" />
<polygon points="851.8,259.5 858.8,255.0 857.3,259.5 858.8,264.0" fill="#8091a8"/>
<polygon points="862.3,257.6 855.3,257.6 855.3,261.4 862.3,261.4" fill="#8091a8"/>
<path d="M866.0,271.0 H864.8" fill="none" stroke="#8091a8" stroke-width="2" />
<polygon points="860.0,271.0 865.0,268.0 863.9,271.0 865.0,274.0" fill="#8091a8"/>
<polygon points="868.5,269.7 862.5,269.7 862.5,272.3 868.5,272.3" fill="#8091a8"/>
<path d="M948.0,271.0 H960.0" fill="none" stroke="#8091a8" stroke-width="2.5" />
<text x="964.4" y="277.5" font-family="Liberation Sans" font-size="12.86" font-weight="bold" fill="#141414" stroke="#141414" stroke-width="0.12" textLength="13.3" lengthAdjust="spacingAndGlyphs" ><tspan>H</tspan><tspan dy="-5.79" font-size="7.97">+</tspan></text>
<text x="823.0" y="266.8" font-family="Liberation Sans" font-size="12.14" font-weight="bold" fill="#141414" stroke="#141414" stroke-width="0.12" textLength="20.2" lengthAdjust="spacingAndGlyphs" ><tspan>ATP</tspan></text>
<text x="807.9" y="284.0" font-family="Liberation Sans" font-size="12.14" font-weight="bold" fill="#141414" stroke="#141414" stroke-width="0.12" textLength="36.5" lengthAdjust="spacingAndGlyphs" ><tspan>ADP+Pi</tspan></text>
<text x="709.2" y="369.0" font-family="Liberation Sans" font-size="15.71" font-weight="bold" fill="#141414" stroke="#141414" stroke-width="0.3" textLength="66.0" lengthAdjust="spacingAndGlyphs" ><tspan>CHH</tspan><tspan dy="4.40" font-size="11.31">4</tspan><tspan dy="-4.40" font-size="15.71">MPT</tspan></text>
<text x="734.4" y="395.3" font-family="Liberation Sans" font-size="12.14" font-weight="bold" fill="#141414" stroke="#141414" stroke-width="0.12" textLength="21.2" lengthAdjust="spacingAndGlyphs" ><tspan>Mch</tspan></text>
<path d="M726.6,372 V405" fill="none" stroke="#8091a8" stroke-width="4.4" />
<polygon points="726.6,413.5 721.1,407.0 726.6,408.4 732.1,407.0" fill="#8091a8"/>
<polygon points="724.4,403.5 724.4,410.2 728.9,410.2 728.9,403.5" fill="#8091a8"/>
<text x="710.7" y="428.0" font-family="Liberation Sans" font-size="15.71" font-weight="bold" fill="#141414" stroke="#141414" stroke-width="0.3" textLength="78.8" lengthAdjust="spacingAndGlyphs" ><tspan>CHOH</tspan><tspan dy="4.40" font-size="11.31">4</tspan><tspan dy="-4.40" font-size="15.71">MPT</tspan></text>
<text x="734.4" y="452.5" font-family="Liberation Sans" font-size="12.14" font-weight="bold" fill="#141414" stroke="#141414" stroke-width="0.12" textLength="14.7" lengthAdjust="spacingAndGlyphs" ><tspan>Ftr</tspan></text>
<path d="M726.6,431.8 V460" fill="none" stroke="#8091a8" stroke-width="4.4" />
<polygon points="726.6,468.3 721.1,461.8 726.6,463.2 732.1,461.8" fill="#8091a8"/>
<polygon points="724.4,458.3 724.4,465.1 728.9,465.1 728.9,458.3" fill="#8091a8"/>
<text x="709.2" y="481.5" font-family="Liberation Sans" font-size="15.43" font-weight="bold" fill="#141414" stroke="#141414" stroke-width="0.3" textLength="63.1" lengthAdjust="spacingAndGlyphs" ><tspan>CHOMFR</tspan></text>
<text x="775.9" y="470.8" font-family="Liberation Sans" font-size="12.14" font-weight="bold" fill="#141414" stroke="#141414" stroke-width="0.12" textLength="21.9" lengthAdjust="spacingAndGlyphs" ><tspan>Fmd</tspan></text>
<path d="M772.8,476.8 H812" fill="none" stroke="#8091a8" stroke-width="4.4" />
<polygon points="820.3,476.8 813.8,482.3 815.2,476.8 813.8,471.3" fill="#8091a8"/>
<polygon points="810.3,479.1 817.0,479.1 817.0,474.6 810.3,474.6" fill="#8091a8"/>
<text x="822.2" y="482.0" font-family="Liberation Sans" font-size="15.71" font-weight="bold" fill="#141414" stroke="#141414" stroke-width="0.3" textLength="26.6" lengthAdjust="spacingAndGlyphs" ><tspan>CO</tspan><tspan dy="4.40" font-size="11.31">2</tspan></text>
<path d="M805.6,430.3 L798.4,461.0 A5.5,5.5 0 0 0 809.4,461.0 L817.5,427.5" fill="none" stroke="#8091a8" stroke-width="3.6" />
<polygon points="807.0,424.5 810.4,432.0 805.8,429.4 800.6,429.7" fill="#8091a8"/>
<polygon points="806.8,434.7 808.3,428.1 804.2,427.2 802.7,433.8" fill="#8091a8"/>
<text x="804.1" y="416.0" font-family="Liberation Sans" font-size="13.57" font-weight="bold" fill="#141414" stroke="#141414" stroke-width="0.12" textLength="27.3" lengthAdjust="spacingAndGlyphs" ><tspan>Fd</tspan><tspan dy="3.80" font-size="9.77">red</tspan></text>
<text x="820.9" y="432.0" font-family="Liberation Sans" font-size="13.57" font-weight="bold" fill="#141414" stroke="#141414" stroke-width="0.12" textLength="24.2" lengthAdjust="spacingAndGlyphs" ><tspan>Fd</tspan><tspan dy="3.80" font-size="9.77">ox</tspan></text>
<text x="848.3" y="444.0" font-family="Liberation Sans" font-size="13.57" font-weight="bold" fill="#141414" stroke="#141414" stroke-width="0.12" textLength="13.6" lengthAdjust="spacingAndGlyphs" ><tspan>H</tspan><tspan dy="3.80" font-size="9.77">2</tspan></text>
<path d="M887,406.5 Q887,402 891.5,402 H930 V397.5 Q930,393 934.5,393 H949.2 Q953.7,393 953.7,397.5 V433.5 Q953.7,438 949.2,438 H891.5 Q887,438 887,433.5 Z" fill="#7e9c48"/>
<text x="913.2" y="424.0" font-family="Liberation Sans" font-size="12.14" font-weight="bold" fill="#0e1408" stroke="#0e1408" stroke-width="0.12" textLength="17.7" lengthAdjust="spacingAndGlyphs" ><tspan>Rnf</tspan></text>
<path d="M830.7,406 H870 Q886,406 886,414.4 Q886,422.8 870,422.8 H848" fill="none" stroke="#8091a8" stroke-width="4.4" />
<polygon points="839.8,422.8 846.8,417.1 845.3,422.8 846.8,428.6" fill="#8091a8"/>
<polygon points="850.3,420.6 843.3,420.6 843.3,425.1 850.3,425.1" fill="#8091a8"/>
<path d="M886,418 V428 Q886,435 878,435 H872" fill="none" stroke="#8091a8" stroke-width="4.4" />
<polygon points="864.2,435.0 871.2,429.2 869.7,435.0 871.2,440.8" fill="#8091a8"/>
<polygon points="874.7,432.8 867.7,432.8 867.7,437.2 874.7,437.2" fill="#8091a8"/>
<path d="M953.7,418 H958" fill="none" stroke="#8091a8" stroke-width="2.5" />
<polygon points="962.0,418.0 957.0,421.0 958.1,418.0 957.0,415.0" fill="#8091a8"/>
<polygon points="953.5,419.3 959.5,419.3 959.5,416.7 953.5,416.7" fill="#8091a8"/>
<text x="965.4" y="420.5" font-family="Liberation Sans" font-size="12.86" font-weight="bold" fill="#141414" stroke="#141414" stroke-width="0.12" textLength="21.3" lengthAdjust="spacingAndGlyphs" ><tspan>Na</tspan><tspan dy="-5.79" font-size="7.97">+</tspan></text>
<path d="M937.3,468.5 V446 Q937.3,441 932.3,441 H904 Q899,441 899,446" fill="none" stroke="#5b5e63" stroke-width="4" />
<polygon points="891.5,445.0 906.5,445.0 899.0,457.9" fill="#5b5e63"/>
<text x="895.3" y="475.0" font-family="Liberation Sans" font-size="13.57" font-weight="normal" fill="#1e1e1e" stroke="#1e1e1e" stroke-width="0.15" textLength="41.1" lengthAdjust="spacingAndGlyphs" ><tspan>MPhH</tspan><tspan dy="3.80" font-size="9.77">2</tspan></text>
<text x="907.6" y="487.0" font-family="Liberation Sans" font-size="13.57" font-weight="normal" fill="#1e1e1e" stroke="#1e1e1e" stroke-width="0.15" textLength="27.3" lengthAdjust="spacingAndGlyphs" ><tspan>MPh</tspan></text>
<text x="973.0" y="59.0" font-family="Liberation Sans" font-size="22.86" font-weight="bold" fill="#141414" stroke="#141414" stroke-width="0.3" textLength="17.4" lengthAdjust="spacingAndGlyphs" ><tspan>C</tspan></text>
<circle cx="1021.6" cy="72.3" r="19.5" fill="#cf645f"/>
<text x="1007.4" y="78.2" font-family="Liberation Sans" font-size="12.86" font-weight="bold" fill="#141414" stroke="#141414" stroke-width="0.12" textLength="31.7" lengthAdjust="spacingAndGlyphs" ><tspan>MHC</tspan></text>
<text x="1051.7" y="77.0" font-family="Liberation Sans" font-weight="bold" font-size="20.37" fill="#141414">e</text>
<rect x="1062.6" y="65.5" width="3.5" height="1.6" fill="#141414"/>
<text x="1014.0" y="145.0" font-family="Liberation Sans" font-weight="bold" font-size="20.37" fill="#141414">e</text>
<rect x="1024.9" y="133.5" width="3.5" height="1.6" fill="#141414"/>
<text x="1014.7" y="206.0" font-family="Liberation Sans" font-weight="bold" font-size="20.37" fill="#141414">e</text>
<rect x="1025.6" y="194.5" width="3.5" height="1.6" fill="#141414"/>
<rect x="1247" y="91.3" width="239.2" height="22.3" rx="5" fill="#c9c9c9"/>
<text x="1251" y="109" font-family="Liberation Sans" font-size="19.5" fill="#2a2a2a" textLength="234" lengthAdjust="spacingAndGlyphs"><tspan font-style="italic">Ca.</tspan> Synthrophoarchaeum sp.</text>
<text x="1181.0" y="107.5" font-family="Liberation Sans" font-size="14.71" font-weight="bold" fill="#141414" stroke="#141414" stroke-width="0.3" textLength="49.0" lengthAdjust="spacingAndGlyphs" ><tspan>C</tspan><tspan dy="4.12" font-size="10.59">n</tspan><tspan dy="-4.12" font-size="14.71">H</tspan><tspan dy="4.12" font-size="10.59">2n+2</tspan></text>
<path d="M1203.1,112.9 V150" fill="none" stroke="#93aa93" stroke-width="4.4" />
<polygon points="1203.1,159.0 1198.1,150.0 1203.1,152.0 1208.1,150.0" fill="#93aa93"/>
<polygon points="1201.0,146.5 1201.0,154.5 1205.2,154.5 1205.2,146.5" fill="#93aa93"/>
<text x="1208.4" y="140.9" font-family="Liberation Sans" font-size="11.71" font-weight="bold" fill="#141414" stroke="#141414" stroke-width="0.12" textLength="40.9" lengthAdjust="spacingAndGlyphs" ><tspan>McrABG</tspan></text>
<text x="1163.4" y="173.5" font-family="Liberation Sans" font-size="15.43" font-weight="bold" fill="#141414" stroke="#141414" stroke-width="0.3" textLength="80.3" lengthAdjust="spacingAndGlyphs" ><tspan>C</tspan><tspan dy="4.32" font-size="11.11">n</tspan><tspan dy="-4.32" font-size="15.43">H</tspan><tspan dy="4.32" font-size="11.11">2n+1</tspan><tspan dy="-4.32" font-size="15.43">CoM</tspan></text>
<text x="1075.0" y="175.0" font-family="Liberation Sans" font-size="15.43" font-weight="bold" fill="#141414" stroke="#141414" stroke-width="0.3" textLength="59.9" lengthAdjust="spacingAndGlyphs" ><tspan>C</tspan><tspan dy="4.32" font-size="11.11">n</tspan><tspan dy="-4.32" font-size="15.43">H</tspan><tspan dy="4.32" font-size="11.11">2n+2</tspan><tspan dy="-4.32" font-size="15.43">O</tspan></text>
<circle cx="1150.5" cy="155.5" r="6.3" fill="none" stroke="#1a1a1a" stroke-width="1.5"/>
<text x="1150.5" y="159.1" font-family="Liberation Sans" font-weight="bold" font-size="10" text-anchor="middle" fill="#1a1a1a">2</text>
<text x="1157.9" y="161.0" font-family="Liberation Sans" font-size="12.57" font-weight="bold" fill="#141414" stroke="#141414" stroke-width="0.12" textLength="9.3" lengthAdjust="spacingAndGlyphs" ><tspan>?</tspan></text>
<path d="M1160,167.75 H1144 M1160,172.25 H1144" fill="none" stroke="#98a498" stroke-width="1.3" stroke-dasharray="3,2"/>
<path d="M1144,164.25 L1138,170 L1144,175.75" fill="none" stroke="#98a498" stroke-width="1.3" stroke-dasharray="3,2"/>
<circle cx="1082" cy="194.4" r="6.3" fill="none" stroke="#1a1a1a" stroke-width="1.5"/>
<text x="1082" y="198.0" font-family="Liberation Sans" font-weight="bold" font-size="10" text-anchor="middle" fill="#1a1a1a">3</text>
<text x="1089.4" y="200.0" font-family="Liberation Sans" font-size="12.57" font-weight="bold" fill="#141414" stroke="#141414" stroke-width="0.12" textLength="9.8" lengthAdjust="spacingAndGlyphs" ><tspan>?</tspan></text>
<path d="M1104.05,181 V203 M1108.55,181 V203" fill="none" stroke="#98a498" stroke-width="1.3" stroke-dasharray="3,2"/>
<path d="M1100.55,203 L1106.3,209 L1112.05,203" fill="none" stroke="#98a498" stroke-width="1.3" stroke-dasharray="3,2"/>
<circle cx="1227" cy="197" r="6.4" fill="none" stroke="#1a1a1a" stroke-width="1.5"/>
<text x="1227" y="200.6" font-family="Liberation Sans" font-weight="bold" font-size="10" text-anchor="middle" fill="#1a1a1a">1</text>
<text x="1234.4" y="202.5" font-family="Liberation Sans" font-size="12.57" font-weight="bold" fill="#141414" stroke="#141414" stroke-width="0.12" textLength="9.8" lengthAdjust="spacingAndGlyphs" ><tspan>?</tspan></text>
<path d="M1201.35,182.2 V206.7 M1205.85,182.2 V206.7" fill="none" stroke="#98a498" stroke-width="1.3" stroke-dasharray="3,2"/>
<path d="M1197.85,206.7 L1203.6,212.7 L1209.35,206.7" fill="none" stroke="#98a498" stroke-width="1.3" stroke-dasharray="3,2"/>
<circle cx="1142.5" cy="207.8" r="6.3" fill="none" stroke="#1a1a1a" stroke-width="1.5"/>
<text x="1142.5" y="211.4" font-family="Liberation Sans" font-weight="bold" font-size="10" text-anchor="middle" fill="#1a1a1a">4</text>
<text x="1149.9" y="213.5" font-family="Liberation Sans" font-size="12.57" font-weight="bold" fill="#141414" stroke="#141414" stroke-width="0.12" textLength="9.3" lengthAdjust="spacingAndGlyphs" ><tspan>?</tspan></text>
<path d="M1136.7,219.35 H1154 M1136.7,223.85 H1154" fill="none" stroke="#98a498" stroke-width="1.3" stroke-dasharray="3,2"/>
<path d="M1154,215.85 L1160,221.6 L1154,227.35" fill="none" stroke="#98a498" stroke-width="1.3" stroke-dasharray="3,2"/>
<text x="1082.2" y="227.5" font-family="Liberation Sans" font-size="15.43" font-weight="bold" fill="#141414" stroke="#141414" stroke-width="0.3" textLength="49.1" lengthAdjust="spacingAndGlyphs" ><tspan>C</tspan><tspan dy="4.32" font-size="11.11">n</tspan><tspan dy="-4.32" font-size="15.43">H</tspan><tspan dy="4.32" font-size="11.11">2n</tspan><tspan dy="-4.32" font-size="15.43">O</tspan></text>
<text x="1165.2" y="227.5" font-family="Liberation Sans" font-size="15.43" font-weight="bold" fill="#141414" stroke="#141414" stroke-width="0.3" textLength="85.5" lengthAdjust="spacingAndGlyphs" ><tspan>C</tspan><tspan dy="4.32" font-size="11.11">n</tspan><tspan dy="-4.32" font-size="15.43">H</tspan><tspan dy="4.32" font-size="11.11">2n-1</tspan><tspan dy="-4.32" font-size="15.43">OCoA</tspan></text>
<path d="M1204.9,235 V281" fill="none" stroke="#93aa93" stroke-width="4.4" />
<polygon points="1204.9,286.6 1199.4,280.1 1204.9,281.5 1210.4,280.1" fill="#93aa93"/>
<polygon points="1202.7,276.6 1202.7,283.4 1207.2,283.4 1207.2,276.6" fill="#93aa93"/>
<text x="1210.4" y="265.3" font-family="Liberation Sans" font-size="11.43" font-weight="normal" fill="#141414" stroke="#141414" stroke-width="0.15" textLength="28.5" lengthAdjust="spacingAndGlyphs" ><tspan>FadE</tspan></text>
<rect x="1137" y="245.2" width="8.6" height="29.8" fill="#8ea65d"/>
<g transform="translate(1138.5,248.0) rotate(90)"><text x="0" y="0" font-family="Liberation Sans" font-weight="bold" font-size="8.86" fill="#0e1408" stroke="#0e1408" stroke-width="0.25" textLength="22.5" lengthAdjust="spacingAndGlyphs">Fe-S</text></g>
<text x="1157.4" y="255.0" font-family="Liberation Sans" font-size="11.86" font-weight="bold" fill="#141414" stroke="#141414" stroke-width="0.12" textLength="41.4" lengthAdjust="spacingAndGlyphs" ><tspan>EtfAB</tspan><tspan dy="3.32" font-size="8.54">ox</tspan></text>
<text x="1155.6" y="276.3" font-family="Liberation Sans" font-size="12.29" font-weight="bold" fill="#141414" stroke="#141414" stroke-width="0.12" textLength="43.8" lengthAdjust="spacingAndGlyphs" ><tspan>EtfAB</tspan><tspan dy="3.44" font-size="8.85">red</tspan></text>
<path d="M1153.7,271.4 Q1141,262 1150,252" fill="none" stroke="#9aaa9a" stroke-width="2.6" />
<polygon points="1156.2,250.7 1150.1,256.0 1150.8,251.8 1148.6,248.2" fill="#9aaa9a"/>
<polygon points="1146.2,254.4 1153.1,253.0 1152.4,249.7 1145.6,251.1" fill="#9aaa9a"/>
<path d="M1194.5,249.5 Q1207,258 1195,267" fill="none" stroke="#9aaa9a" stroke-width="2.6" />
<polygon points="1189.7,269.6 1194.4,263.1 1194.7,267.4 1197.7,270.4" fill="#9aaa9a"/>
<polygon points="1198.6,263.8 1192.2,266.6 1193.6,269.7 1200.0,266.8" fill="#9aaa9a"/>
<text x="1170.0" y="299.5" font-family="Liberation Sans" font-size="15.43" font-weight="bold" fill="#141414" stroke="#141414" stroke-width="0.3" textLength="85.4" lengthAdjust="spacingAndGlyphs" ><tspan>C</tspan><tspan dy="4.32" font-size="11.11">n</tspan><tspan dy="-4.32" font-size="15.43">H</tspan><tspan dy="4.32" font-size="11.11">2n-2</tspan><tspan dy="-4.32" font-size="15.43">OCoA</tspan></text>
<path d="M1205.5,307.5 V331" fill="none" stroke="#93aa93" stroke-width="4.4" />
<polygon points="1205.5,337.0 1200.0,330.5 1205.5,331.9 1211.0,330.5" fill="#93aa93"/>
<polygon points="1203.2,327.0 1203.2,333.8 1207.8,333.8 1207.8,327.0" fill="#93aa93"/>
<text x="1210.4" y="324.0" font-family="Liberation Sans" font-size="11.86" font-weight="normal" fill="#141414" stroke="#141414" stroke-width="0.15" textLength="34.0" lengthAdjust="spacingAndGlyphs" ><tspan>FadB1</tspan></text>
<text x="1166.6" y="350.0" font-family="Liberation Sans" font-size="15.43" font-weight="bold" fill="#141414" stroke="#141414" stroke-width="0.3" textLength="96.1" lengthAdjust="spacingAndGlyphs" ><tspan>C</tspan><tspan dy="4.32" font-size="11.11">n</tspan><tspan dy="-4.32" font-size="15.43">H</tspan><tspan dy="4.32" font-size="11.11">2n-1</tspan><tspan dy="-4.32" font-size="15.43">OOCoA</tspan></text>
<path d="M1206.4,357 V392" fill="none" stroke="#93aa93" stroke-width="4.4" />
<polygon points="1206.4,398.0 1200.9,391.5 1206.4,392.9 1211.9,391.5" fill="#93aa93"/>
<polygon points="1204.2,388.0 1204.2,394.8 1208.7,394.8 1208.7,388.0" fill="#93aa93"/>
<text x="1210.9" y="381.0" font-family="Liberation Sans" font-size="11.86" font-weight="normal" fill="#141414" stroke="#141414" stroke-width="0.15" textLength="34.7" lengthAdjust="spacingAndGlyphs" ><tspan>FadB2</tspan></text>
<rect x="1006.3" y="359" width="58.9" height="36.5" rx="5" fill="#7e9c48"/>
<text x="1021.3" y="374.8" font-family="Liberation Sans" font-size="11.43" font-weight="bold" fill="#0e1408" stroke="#0e1408" stroke-width="0.12" textLength="30.2" lengthAdjust="spacingAndGlyphs" ><tspan>NADH</tspan></text>
<text x="1022.7" y="388.9" font-family="Liberation Sans" font-size="11.43" font-weight="bold" fill="#0e1408" stroke="#0e1408" stroke-width="0.12" textLength="27.8" lengthAdjust="spacingAndGlyphs" ><tspan>Q-DH</tspan></text>
<path d="M1006.3,377.7 H999" fill="none" stroke="#93aa93" stroke-width="3" />
<polygon points="993.4,377.7 999.4,374.2 998.1,377.7 999.4,381.2" fill="#93aa93"/>
<polygon points="1002.9,376.2 996.4,376.2 996.4,379.2 1002.9,379.2" fill="#93aa93"/>
<text x="979.4" y="381.0" font-family="Liberation Sans" font-size="12.86" font-weight="bold" fill="#141414" stroke="#141414" stroke-width="0.12" textLength="12.3" lengthAdjust="spacingAndGlyphs" ><tspan>H</tspan><tspan dy="-5.79" font-size="7.97">+</tspan></text>
<path d="M1114,371 H1075 Q1066.4,371 1066.4,378 Q1066.4,385.2 1075,385.2 H1109" fill="none" stroke="#93aa93" stroke-width="3.6" />
<polygon points="1117.5,385.2 1108.5,390.2 1110.5,385.2 1108.5,380.2" fill="#93aa93"/>
<polygon points="1105.0,387.3 1113.0,387.3 1113.0,383.1 1105.0,383.1" fill="#93aa93"/>
<text x="1120.1" y="374.8" font-family="Liberation Sans" font-size="12.14" font-weight="bold" fill="#141414" stroke="#141414" stroke-width="0.12" textLength="35.3" lengthAdjust="spacingAndGlyphs" ><tspan>NADH</tspan></text>
<text x="1123.0" y="390.0" font-family="Liberation Sans" font-size="12.86" font-weight="bold" fill="#141414" stroke="#141414" stroke-width="0.12" textLength="31.7" lengthAdjust="spacingAndGlyphs" ><tspan>NAD</tspan><tspan dy="-5.79" font-size="7.97">+</tspan></text>
<path d="M1170,371 H1195 Q1205,371 1205,378 Q1205,385.2 1195,385.2 H1156.5" fill="none" stroke="#93aa93" stroke-width="3.6" />
<polygon points="1161.4,371.0 1170.4,365.5 1168.4,371.0 1170.4,376.5" fill="#93aa93"/>
<polygon points="1173.9,368.8 1165.9,368.8 1165.9,373.2 1173.9,373.2" fill="#93aa93"/>
<text x="1166.6" y="412.0" font-family="Liberation Sans" font-size="15.43" font-weight="bold" fill="#141414" stroke="#141414" stroke-width="0.3" textLength="96.1" lengthAdjust="spacingAndGlyphs" ><tspan>C</tspan><tspan dy="4.32" font-size="11.11">n</tspan><tspan dy="-4.32" font-size="15.43">H</tspan><tspan dy="4.32" font-size="11.11">2n-5</tspan><tspan dy="-4.32" font-size="15.43">OOCoA</tspan></text>
<text x="1070.5" y="412.0" font-family="Liberation Sans" font-size="15.71" font-weight="bold" fill="#141414" stroke="#141414" stroke-width="0.3" textLength="75.8" lengthAdjust="spacingAndGlyphs" ><tspan>TCA cycle?</tspan></text>
<text x="1071.2" y="446.0" font-family="Liberation Sans" font-size="15.00" font-weight="bold" fill="#141414" stroke="#141414" stroke-width="0.3" textLength="75.0" lengthAdjust="spacingAndGlyphs" ><tspan>C</tspan><tspan dy="4.20" font-size="10.80">4</tspan><tspan dy="-4.20" font-size="15.00">H</tspan><tspan dy="4.20" font-size="10.80">6</tspan><tspan dy="-4.20" font-size="15.00">O</tspan><tspan dy="4.20" font-size="10.80">4</tspan><tspan dy="-4.20" font-size="15.00">CoA</tspan></text>
<path d="M1110.2,433.2 V423" fill="none" stroke="#93aa93" stroke-width="4.4" />
<polygon points="1110.2,416.2 1115.2,424.2 1110.2,422.4 1105.2,424.2" fill="#93aa93"/>
<polygon points="1112.3,427.7 1112.3,420.2 1108.1,420.2 1108.1,427.7" fill="#93aa93"/>
<text x="1213.9" y="430.3" font-family="Liberation Sans" font-size="11.43" font-weight="normal" fill="#141414" stroke="#141414" stroke-width="0.15" textLength="26.1" lengthAdjust="spacingAndGlyphs" ><tspan>AtoB</tspan></text>
<path d="M1208.2,418.6 V467" fill="none" stroke="#93aa93" stroke-width="5" />
<polygon points="1208.2,475.7 1202.7,466.7 1208.2,468.7 1213.7,466.7" fill="#93aa93"/>
<polygon points="1206.0,463.2 1206.0,471.2 1210.5,471.2 1210.5,463.2" fill="#93aa93"/>
<path d="M1202,433.2 H1214.5 M1202,446.8 H1214.5" fill="none" stroke="#93aa93" stroke-width="1.6" />
<path d="M1205,437.4 H1211.5 M1205,439.7 H1211.5 M1205,442 H1211.5" fill="none" stroke="#ffffff" stroke-width="0.8" />
<circle cx="1191.8" cy="451.9" r="7.5" fill="none" stroke="#1a1a1a" stroke-width="1.5"/>
<text x="1191.8" y="455.7" font-family="Liberation Sans" font-weight="bold" font-size="10.5" text-anchor="middle" fill="#1a1a1a">5</text>
<path d="M1205,464.8 H1151 Q1145.6,464.8 1145.6,470" fill="none" stroke="#93aa93" stroke-width="4.4" />
<polygon points="1145.6,476.5 1140.6,469.5 1145.6,471.0 1150.6,469.5" fill="#93aa93"/>
<polygon points="1143.5,466.0 1143.5,473.0 1147.7,473.0 1147.7,466.0" fill="#93aa93"/>
<text x="1080.4" y="470.0" font-family="Liberation Sans" font-size="12.14" font-weight="bold" fill="#141414" stroke="#141414" stroke-width="0.12" textLength="23.2" lengthAdjust="spacingAndGlyphs" ><tspan>MUT</tspan></text>
<circle cx="1123.6" cy="467.6" r="7.8" fill="none" stroke="#1a1a1a" stroke-width="1.5"/>
<text x="1123.6" y="471.6" font-family="Liberation Sans" font-weight="bold" font-size="11" text-anchor="middle" fill="#1a1a1a">6</text>
<path d="M1108.6,476 V460 M1112.6,476 V460" fill="none" stroke="#98a498" stroke-width="1.4" stroke-dasharray="2.5,2"/>
<path d="M1105,461 L1110.6,454.8 L1116,461" fill="none" stroke="#98a498" stroke-width="1.4" stroke-dasharray="2.5,2"/>
<text x="1094.0" y="492.0" font-family="Liberation Sans" font-size="15.00" font-weight="bold" fill="#141414" stroke="#141414" stroke-width="0.3" textLength="69.9" lengthAdjust="spacingAndGlyphs" ><tspan>C</tspan><tspan dy="4.20" font-size="10.80">3</tspan><tspan dy="-4.20" font-size="15.00">H</tspan><tspan dy="4.20" font-size="10.80">5</tspan><tspan dy="-4.20" font-size="15.00">OCoA</tspan></text>
<text x="1176.2" y="492.0" font-family="Liberation Sans" font-size="15.43" font-weight="bold" fill="#141414" stroke="#141414" stroke-width="0.3" textLength="71.0" lengthAdjust="spacingAndGlyphs" ><tspan>C</tspan><tspan dy="4.32" font-size="11.11">2</tspan><tspan dy="-4.32" font-size="15.43">H</tspan><tspan dy="4.32" font-size="11.11">3</tspan><tspan dy="-4.32" font-size="15.43">OCoA</tspan></text>
<path d="M1250.5,486.7 H1283 Q1289.7,486.7 1289.7,480 V263" fill="none" stroke="#93aa93" stroke-width="4.5" />
<polygon points="1289.7,255.3 1295.2,264.3 1289.7,262.3 1284.2,264.3" fill="#93aa93"/>
<polygon points="1292.0,267.8 1292.0,259.8 1287.5,259.8 1287.5,267.8" fill="#93aa93"/>
<path d="M1291,266.3 H1308" fill="none" stroke="#93aa93" stroke-width="4.5" />
<polygon points="1317.2,266.3 1307.2,272.3 1309.4,266.3 1307.2,260.3" fill="#93aa93"/>
<polygon points="1303.7,268.6 1312.2,268.6 1312.2,264.1 1303.7,264.1" fill="#93aa93"/>
<text x="1273.3" y="248.5" font-family="Liberation Sans" font-size="15.71" font-weight="bold" fill="#141414" stroke="#141414" stroke-width="0.3" textLength="32.5" lengthAdjust="spacingAndGlyphs" ><tspan>[CO]</tspan></text>
<g transform="translate(1277.0,270.0) rotate(90)"><text x="0" y="0" font-family="Liberation Sans" font-weight="bold" font-size="10.43" fill="#141414" stroke="#141414" stroke-width="0.25" textLength="60.8" lengthAdjust="spacingAndGlyphs">ACDS/CODH</text></g>
<text x="1275.4" y="192.0" font-family="Liberation Sans" font-size="15.71" font-weight="bold" fill="#141414" stroke="#141414" stroke-width="0.3" textLength="28.0" lengthAdjust="spacingAndGlyphs" ><tspan>CO</tspan><tspan dy="4.40" font-size="11.31">2</tspan></text>
<path d="M1289.7,203 V227" fill="none" stroke="#93aa93" stroke-width="4.4" />
<polygon points="1289.7,197.0 1294.7,205.0 1289.7,203.2 1284.7,205.0" fill="#93aa93"/>
<polygon points="1291.8,208.5 1291.8,201.0 1287.6,201.0 1287.6,208.5" fill="#93aa93"/>
<polygon points="1289.7,233.0 1284.7,225.0 1289.7,226.8 1294.7,225.0" fill="#93aa93"/>
<polygon points="1287.6,221.5 1287.6,229.0 1291.8,229.0 1291.8,221.5" fill="#93aa93"/>
<path d="M1281.2,207.5 Q1288.2,215.5 1280.4,222.7" fill="none" stroke="#93aa93" stroke-width="3.6" />
<polygon points="1279.9,205.0 1285.3,208.6 1282.2,210.0 1279.0,211.5" fill="#93aa93"/>
<text x="1268.9" y="224.0" font-family="Liberation Sans" font-weight="bold" font-size="12.59" fill="#141414">e</text>
<rect x="1275.8" y="216.7" width="2.1" height="1.2" fill="#141414"/>
<path d="M1343,169.3 H1248.7" fill="none" stroke="#8091a8" stroke-width="4.4" />
<path d="M1362.4,127.9 H1355 Q1347,127.9 1347,136 V200 Q1347,211.9 1356,211.9 H1357" fill="none" stroke="#8091a8" stroke-width="4.4" />
<path d="M1347,160 Q1347,169.3 1340,169.3" fill="none" stroke="#8091a8" stroke-width="4.4" />
<path d="M1347,181 Q1347,192.4 1356,192.4 H1358" fill="none" stroke="#8091a8" stroke-width="4.4" />
<polygon points="1366.6,192.4 1360.1,197.9 1361.5,192.4 1360.1,186.9" fill="#8091a8"/>
<polygon points="1356.6,194.7 1363.3,194.7 1363.3,190.2 1356.6,190.2" fill="#8091a8"/>
<polygon points="1365.2,211.9 1358.7,217.4 1360.1,211.9 1358.7,206.4" fill="#8091a8"/>
<polygon points="1355.2,214.2 1362.0,214.2 1362.0,209.7 1355.2,209.7" fill="#8091a8"/>
<text x="1368.7" y="132.5" font-family="Liberation Sans" font-size="13.57" font-weight="bold" fill="#141414" stroke="#141414" stroke-width="0.12" textLength="64.0" lengthAdjust="spacingAndGlyphs" ><tspan>CoBSSCoM</tspan></text>
<text x="1361.8" y="166.5" font-family="Liberation Sans" font-size="11.43" font-weight="bold" fill="#141414" stroke="#141414" stroke-width="0.12" textLength="47.0" lengthAdjust="spacingAndGlyphs" ><tspan>HdrABC?</tspan></text>
<text x="1370.9" y="198.5" font-family="Liberation Sans" font-size="14.00" font-weight="bold" fill="#141414" stroke="#141414" stroke-width="0.3" textLength="39.5" lengthAdjust="spacingAndGlyphs" ><tspan>CoBSH</tspan></text>
<text x="1368.1" y="216.5" font-family="Liberation Sans" font-size="14.00" font-weight="bold" fill="#141414" stroke="#141414" stroke-width="0.3" textLength="42.9" lengthAdjust="spacingAndGlyphs" ><tspan>CoMSH</tspan></text>
<path d="M1409.7,192.4 H1415 Q1420.9,192.4 1420.9,186 M1410.3,211 H1414 Q1420.9,211 1420.9,203 V147" fill="none" stroke="#8091a8" stroke-width="4.4" />
<polygon points="1420.9,138.2 1426.4,144.7 1420.9,143.3 1415.4,144.7" fill="#8091a8"/>
<polygon points="1423.2,148.2 1423.2,141.4 1418.7,141.4 1418.7,148.2" fill="#8091a8"/>
<path d="M1420.9,159 Q1420.9,151.5 1429,151.5 H1431 M1420.9,173 Q1420.9,166.8 1427,166.8 H1428 M1420.9,183.5 H1434.8 M1420.9,197.4 H1436" fill="none" stroke="#8091a8" stroke-width="4.4" />
<polygon points="1439.0,151.5 1431.0,156.0 1432.8,151.5 1431.0,147.0" fill="#8091a8"/>
<polygon points="1427.5,153.4 1435.0,153.4 1435.0,149.6 1427.5,149.6" fill="#8091a8"/>
<polygon points="1436.0,166.8 1428.0,171.3 1429.8,166.8 1428.0,162.3" fill="#8091a8"/>
<polygon points="1424.5,168.7 1432.0,168.7 1432.0,164.9 1424.5,164.9" fill="#8091a8"/>
<text x="1442.3" y="154.0" font-family="Liberation Sans" font-size="13.57" font-weight="bold" fill="#141414" stroke="#141414" stroke-width="0.12" textLength="23.8" lengthAdjust="spacingAndGlyphs" ><tspan>Fd</tspan><tspan dy="3.80" font-size="9.77">ox</tspan></text>
<text x="1437.3" y="170.0" font-family="Liberation Sans" font-size="13.57" font-weight="bold" fill="#141414" stroke="#141414" stroke-width="0.12" textLength="34.4" lengthAdjust="spacingAndGlyphs" ><tspan>F</tspan><tspan dy="3.80" font-size="9.77">420</tspan><tspan dy="-3.80" font-size="13.57">H</tspan><tspan dy="3.80" font-size="9.77">2</tspan></text>
<text x="1438.3" y="186.0" font-family="Liberation Sans" font-size="13.57" font-weight="bold" fill="#141414" stroke="#141414" stroke-width="0.12" textLength="22.2" lengthAdjust="spacingAndGlyphs" ><tspan>F</tspan><tspan dy="3.80" font-size="9.77">420</tspan></text>
<text x="1439.1" y="201.0" font-family="Liberation Sans" font-size="13.57" font-weight="bold" fill="#141414" stroke="#141414" stroke-width="0.12" textLength="28.4" lengthAdjust="spacingAndGlyphs" ><tspan>Fd</tspan><tspan dy="3.80" font-size="9.77">red</tspan></text>
<text x="1319.6" y="271.0" font-family="Liberation Sans" font-size="15.71" font-weight="bold" fill="#141414" stroke="#141414" stroke-width="0.3" textLength="73.9" lengthAdjust="spacingAndGlyphs" ><tspan>CH</tspan><tspan dy="4.40" font-size="11.31">3</tspan><tspan dy="-4.40" font-size="15.71">H</tspan><tspan dy="4.40" font-size="11.31">4</tspan><tspan dy="-4.40" font-size="15.71">MPT</tspan></text>
<text x="1345.8" y="291.0" font-family="Liberation Sans" font-size="12.29" font-weight="bold" fill="#141414" stroke="#141414" stroke-width="0.12" textLength="28.0" lengthAdjust="spacingAndGlyphs" ><tspan>Met?</tspan></text>
<path d="M1339.1,277.2 V302" fill="none" stroke="#8091a8" stroke-width="4.4" />
<polygon points="1339.1,310.0 1333.6,303.5 1339.1,304.9 1344.6,303.5" fill="#8091a8"/>
<polygon points="1336.8,300.0 1336.8,306.8 1341.3,306.8 1341.3,300.0" fill="#8091a8"/>
<text x="1319.6" y="323.5" font-family="Liberation Sans" font-size="15.71" font-weight="bold" fill="#141414" stroke="#141414" stroke-width="0.3" textLength="73.9" lengthAdjust="spacingAndGlyphs" ><tspan>CH</tspan><tspan dy="4.40" font-size="11.31">2</tspan><tspan dy="-4.40" font-size="15.71">H</tspan><tspan dy="4.40" font-size="11.31">4</tspan><tspan dy="-4.40" font-size="15.71">MPT</tspan></text>
<text x="1345.8" y="347.8" font-family="Liberation Sans" font-size="12.14" font-weight="bold" fill="#141414" stroke="#141414" stroke-width="0.12" textLength="21.8" lengthAdjust="spacingAndGlyphs" ><tspan>Mtd</tspan></text>
<path d="M1339.1,330 V362" fill="none" stroke="#8091a8" stroke-width="4.4" />
<polygon points="1339.1,370.5 1333.6,364.0 1339.1,365.4 1344.6,364.0" fill="#8091a8"/>
<polygon points="1336.8,360.5 1336.8,367.2 1341.3,367.2 1341.3,360.5" fill="#8091a8"/>
<path d="M1412,334.4 H1380 Q1372,334.4 1372,343 Q1372,351.5 1380,351.5 H1393" fill="none" stroke="#8091a8" stroke-width="4.4" />
<polygon points="1401.2,351.5 1394.7,357.0 1396.1,351.5 1394.7,346.0" fill="#8091a8"/>
<polygon points="1391.2,353.8 1398.0,353.8 1398.0,349.2 1391.2,349.2" fill="#8091a8"/>
<text x="1421.2" y="340.0" font-family="Liberation Sans" font-size="13.14" font-weight="bold" fill="#141414" stroke="#141414" stroke-width="0.12" textLength="20.8" lengthAdjust="spacingAndGlyphs" ><tspan>F</tspan><tspan dy="3.68" font-size="9.46">420</tspan></text>
<text x="1412.7" y="355.0" font-family="Liberation Sans" font-size="13.14" font-weight="bold" fill="#141414" stroke="#141414" stroke-width="0.12" textLength="34.1" lengthAdjust="spacingAndGlyphs" ><tspan>F</tspan><tspan dy="3.68" font-size="9.46">420</tspan><tspan dy="-3.68" font-size="13.14">H</tspan><tspan dy="3.68" font-size="9.46">2</tspan></text>
<path d="M1463,333.3 H1485 Q1501,333.3 1501,341.1 Q1501,349 1485,349 H1454.8" fill="none" stroke="#8091a8" stroke-width="4.4" />
<polygon points="1454.8,333.3 1461.8,327.6 1460.3,333.3 1461.8,339.1" fill="#8091a8"/>
<polygon points="1465.3,331.1 1458.3,331.1 1458.3,335.6 1465.3,335.6" fill="#8091a8"/>
<rect x="1501" y="313.8" width="59.8" height="35.2" rx="5" fill="#7e9c48"/>
<text x="1521.2" y="336.4" font-family="Liberation Sans" font-size="11.43" font-weight="bold" fill="#0e1408" stroke="#0e1408" stroke-width="0.12" textLength="20.1" lengthAdjust="spacingAndGlyphs" ><tspan>Fqo</tspan></text>
<path d="M1560.8,332.5 H1573" fill="none" stroke="#8091a8" stroke-width="3" />
<polygon points="1580.3,332.5 1573.3,336.0 1574.8,332.5 1573.3,329.0" fill="#8091a8"/>
<polygon points="1569.8,334.0 1576.8,334.0 1576.8,331.0 1569.8,331.0" fill="#8091a8"/>
<text x="1584.4" y="338.0" font-family="Liberation Sans" font-size="12.86" font-weight="bold" fill="#141414" stroke="#141414" stroke-width="0.12" textLength="13.6" lengthAdjust="spacingAndGlyphs" ><tspan>H</tspan><tspan dy="-5.79" font-size="7.97">+</tspan></text>
<rect x="1512.5" y="266.3" width="48.8" height="23.9" rx="3.5" fill="#183459"/>
<rect x="1506.5" y="272.25" width="8" height="12" fill="#183459"/>
<ellipse cx="1498.7" cy="270.4" rx="14.9" ry="6.3" fill="#183459" stroke="#9fb0c6" stroke-width="0.9"/>
<ellipse cx="1498.7" cy="286.1" rx="14.9" ry="6.3" fill="#183459" stroke="#9fb0c6" stroke-width="0.9"/>
<ellipse cx="1496.9" cy="278.2" rx="13.9" ry="6.6" fill="#183459" stroke="#9fb0c6" stroke-width="0.9"/>
<path d="M1464.2,289.4 H1473.0 Q1480.0,289.4 1480.0,282.4 V273.3 Q1480.0,266.3 1473.0,266.3 H1469.6" fill="none" stroke="#8091a8" stroke-width="2.4" />
<polygon points="1464.6,266.3 1471.6,261.8 1470.1,266.3 1471.6,270.8" fill="#8091a8"/>
<polygon points="1475.1,264.4 1468.1,264.4 1468.1,268.2 1475.1,268.2" fill="#8091a8"/>
<path d="M1480.0,277.7 H1477.6" fill="none" stroke="#8091a8" stroke-width="2" />
<polygon points="1472.8,277.7 1477.8,274.7 1476.7,277.7 1477.8,280.7" fill="#8091a8"/>
<polygon points="1481.3,276.4 1475.3,276.4 1475.3,279.0 1481.3,279.0" fill="#8091a8"/>
<path d="M1561.3,277.7 H1571.7" fill="none" stroke="#8091a8" stroke-width="2.5" />
<text x="1577.2" y="284.6" font-family="Liberation Sans" font-size="12.86" font-weight="bold" fill="#141414" stroke="#141414" stroke-width="0.12" textLength="14.7" lengthAdjust="spacingAndGlyphs" ><tspan>H</tspan><tspan dy="-5.79" font-size="7.97">+</tspan></text>
<text x="1436.6" y="273.6" font-family="Liberation Sans" font-size="12.14" font-weight="bold" fill="#141414" stroke="#141414" stroke-width="0.12" textLength="20.0" lengthAdjust="spacingAndGlyphs" ><tspan>ATP</tspan></text>
<text x="1421.3" y="290.0" font-family="Liberation Sans" font-size="12.14" font-weight="bold" fill="#141414" stroke="#141414" stroke-width="0.12" textLength="36.5" lengthAdjust="spacingAndGlyphs" ><tspan>ADP+Pi</tspan></text>
<path d="M1555.4,380.9 V358 Q1555.4,353 1550.4,353 H1523.6 Q1518.6,353 1518.6,358" fill="none" stroke="#5b5e63" stroke-width="4" />
<polygon points="1511.1,357.0 1526.1,357.0 1518.6,369.4" fill="#5b5e63"/>
<text x="1509.8" y="382.0" font-family="Liberation Sans" font-size="13.14" font-weight="normal" fill="#1e1e1e" stroke="#1e1e1e" stroke-width="0.15" textLength="42.1" lengthAdjust="spacingAndGlyphs" ><tspan>MQhH</tspan><tspan dy="3.68" font-size="9.46">2</tspan></text>
<text x="1526.1" y="392.0" font-family="Liberation Sans" font-size="13.14" font-weight="normal" fill="#1e1e1e" stroke="#1e1e1e" stroke-width="0.15" textLength="27.9" lengthAdjust="spacingAndGlyphs" ><tspan>MQh</tspan></text>
<text x="1321.7" y="386.5" font-family="Liberation Sans" font-size="15.43" font-weight="bold" fill="#141414" stroke="#141414" stroke-width="0.3" textLength="66.9" lengthAdjust="spacingAndGlyphs" ><tspan>CHH</tspan><tspan dy="4.32" font-size="11.11">4</tspan><tspan dy="-4.32" font-size="15.43">MPT</tspan></text>
<text x="1347.4" y="405.4" font-family="Liberation Sans" font-size="11.86" font-weight="bold" fill="#141414" stroke="#141414" stroke-width="0.12" textLength="21.9" lengthAdjust="spacingAndGlyphs" ><tspan>Mch</tspan></text>
<path d="M1339.1,390 V415" fill="none" stroke="#8091a8" stroke-width="4.4" />
<polygon points="1339.1,423.0 1333.6,416.5 1339.1,417.9 1344.6,416.5" fill="#8091a8"/>
<polygon points="1336.8,413.0 1336.8,419.8 1341.3,419.8 1341.3,413.0" fill="#8091a8"/>
<text x="1323.7" y="438.5" font-family="Liberation Sans" font-size="15.43" font-weight="bold" fill="#141414" stroke="#141414" stroke-width="0.3" textLength="79.2" lengthAdjust="spacingAndGlyphs" ><tspan>CHOH</tspan><tspan dy="4.32" font-size="11.11">4</tspan><tspan dy="-4.32" font-size="15.43">MPT</tspan></text>
<text x="1347.4" y="454.4" font-family="Liberation Sans" font-size="11.86" font-weight="bold" fill="#141414" stroke="#141414" stroke-width="0.12" textLength="14.5" lengthAdjust="spacingAndGlyphs" ><tspan>Ftr</tspan></text>
<path d="M1339.1,442 V462" fill="none" stroke="#8091a8" stroke-width="4.4" />
<polygon points="1339.1,470.0 1333.6,463.5 1339.1,464.9 1344.6,463.5" fill="#8091a8"/>
<polygon points="1336.8,460.0 1336.8,466.8 1341.3,466.8 1341.3,460.0" fill="#8091a8"/>
<text x="1321.7" y="483.5" font-family="Liberation Sans" font-size="15.43" font-weight="bold" fill="#141414" stroke="#141414" stroke-width="0.3" textLength="64.8" lengthAdjust="spacingAndGlyphs" ><tspan>CHOMFR</tspan></text>
<text x="1389.4" y="472.3" font-family="Liberation Sans" font-size="11.86" font-weight="bold" fill="#141414" stroke="#141414" stroke-width="0.12" textLength="21.2" lengthAdjust="spacingAndGlyphs" ><tspan>Fmd</tspan></text>
<path d="M1386,478.4 H1425" fill="none" stroke="#8091a8" stroke-width="4.4" />
<polygon points="1433.0,478.4 1426.5,483.9 1427.9,478.4 1426.5,472.9" fill="#8091a8"/>
<polygon points="1423.0,480.6 1429.8,480.6 1429.8,476.1 1423.0,476.1" fill="#8091a8"/>
<text x="1435.3" y="482.0" font-family="Liberation Sans" font-size="14.29" font-weight="bold" fill="#141414" stroke="#141414" stroke-width="0.3" textLength="26.2" lengthAdjust="spacingAndGlyphs" ><tspan>CO</tspan><tspan dy="4.00" font-size="10.29">2</tspan></text>
<path d="M1420.3,434.2 L1413.8,463.0 A5.2,5.2 0 0 0 1424.2,463.0 L1431.6,431.3" fill="none" stroke="#8091a8" stroke-width="3.6" />
<polygon points="1421.6,428.3 1425.0,435.7 1420.5,433.2 1415.3,433.5" fill="#8091a8"/>
<polygon points="1421.4,438.5 1422.9,431.9 1418.8,431.0 1417.3,437.6" fill="#8091a8"/>
<text x="1418.0" y="418.7" font-family="Liberation Sans" font-size="13.57" font-weight="bold" fill="#141414" stroke="#141414" stroke-width="0.12" textLength="27.2" lengthAdjust="spacingAndGlyphs" ><tspan>Fd</tspan><tspan dy="3.80" font-size="9.77">red</tspan></text>
<text x="1434.8" y="434.0" font-family="Liberation Sans" font-size="13.57" font-weight="bold" fill="#141414" stroke="#141414" stroke-width="0.12" textLength="23.9" lengthAdjust="spacingAndGlyphs" ><tspan>Fd</tspan><tspan dy="3.80" font-size="9.77">ox</tspan></text>
<text x="1461.6" y="445.5" font-family="Liberation Sans" font-size="13.57" font-weight="bold" fill="#141414" stroke="#141414" stroke-width="0.12" textLength="13.3" lengthAdjust="spacingAndGlyphs" ><tspan>H</tspan><tspan dy="3.80" font-size="9.77">2</tspan></text>
<path d="M1500.6,408.9 Q1500.6,404.4 1505.1,404.4 H1544 V400.2 Q1544,395.7 1548.5,395.7 H1562.5 Q1567,395.7 1567,400.2 V436.2 Q1567,440.7 1562.5,440.7 H1505.1 Q1500.6,440.7 1500.6,436.2 Z" fill="#7e9c48"/>
<text x="1527.4" y="428.5" font-family="Liberation Sans" font-size="12.14" font-weight="bold" fill="#0e1408" stroke="#0e1408" stroke-width="0.12" textLength="8.2" lengthAdjust="spacingAndGlyphs" ><tspan>?</tspan></text>
<path d="M1444.5,409.1 H1484 Q1500,409.1 1500,417.5 Q1500,426 1484,426 H1462" fill="none" stroke="#8091a8" stroke-width="4.4" />
<polygon points="1453.2,426.0 1460.2,420.2 1458.7,426.0 1460.2,431.8" fill="#8091a8"/>
<polygon points="1463.7,423.8 1456.7,423.8 1456.7,428.2 1463.7,428.2" fill="#8091a8"/>
<path d="M1500,420 V430 Q1500,436.9 1492,436.9 H1485" fill="none" stroke="#8091a8" stroke-width="4.4" />
<polygon points="1477.1,436.9 1484.1,431.1 1482.6,436.9 1484.1,442.6" fill="#8091a8"/>
<polygon points="1487.6,434.6 1480.6,434.6 1480.6,439.1 1487.6,439.1" fill="#8091a8"/>
<path d="M1551.7,472.3 V447.6 Q1551.7,442.6 1546.7,442.6 H1518.4 Q1513.4,442.6 1513.4,447.6" fill="none" stroke="#5b5e63" stroke-width="4" />
<polygon points="1505.9,446.6 1520.9,446.6 1513.4,459.6" fill="#5b5e63"/>
<text x="1509.0" y="478.0" font-family="Liberation Sans" font-size="12.57" font-weight="normal" fill="#1e1e1e" stroke="#1e1e1e" stroke-width="0.15" textLength="40.6" lengthAdjust="spacingAndGlyphs" ><tspan>MQhH</tspan><tspan dy="3.52" font-size="9.05">2</tspan></text>
<text x="1521.3" y="489.5" font-family="Liberation Sans" font-size="13.14" font-weight="normal" fill="#1e1e1e" stroke="#1e1e1e" stroke-width="0.15" textLength="27.2" lengthAdjust="spacingAndGlyphs" ><tspan>MQh</tspan></text>
</svg></body></html>
